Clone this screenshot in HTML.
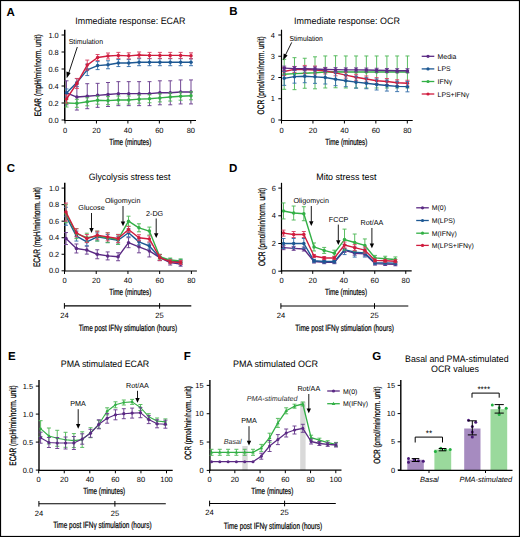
<!DOCTYPE html>
<html><head><meta charset="utf-8"><style>
html,body{margin:0;padding:0;background:#fff;}
body{width:520px;height:537px;overflow:hidden;}
svg{display:block;font-family:"Liberation Sans", sans-serif;text-rendering:geometricPrecision;-webkit-font-smoothing:antialiased;}
</style></head><body>
<svg width="520" height="537" viewBox="0 0 520 537">
<rect width="520" height="537" fill="#fff"/>
<rect x="0.5" y="0.5" width="519" height="536" fill="none" stroke="#000" stroke-width="1.2"/>
<text x="6.6" y="15.8" font-size="11.5" text-anchor="start" font-weight="bold" font-style="normal" fill="#000">A</text>
<text x="75.3" y="23.6" font-size="9.3" text-anchor="start" font-weight="normal" font-style="normal" fill="#000" textLength="110" lengthAdjust="spacingAndGlyphs">Immediate response: ECAR</text>
<line x1="64.75" y1="29.7" x2="64.75" y2="120.5" stroke="#000" stroke-width="1.5" stroke-linecap="butt"/>
<line x1="61.55" y1="120" x2="64.75" y2="120" stroke="#000" stroke-width="1" stroke-linecap="butt"/>
<text x="58.7" y="122.6" font-size="7.4" text-anchor="end" font-weight="normal" font-style="normal" fill="#000">0.0</text>
<line x1="61.55" y1="103" x2="64.75" y2="103" stroke="#000" stroke-width="1" stroke-linecap="butt"/>
<text x="58.7" y="105.6" font-size="7.4" text-anchor="end" font-weight="normal" font-style="normal" fill="#000">0.2</text>
<line x1="61.55" y1="86" x2="64.75" y2="86" stroke="#000" stroke-width="1" stroke-linecap="butt"/>
<text x="58.7" y="88.6" font-size="7.4" text-anchor="end" font-weight="normal" font-style="normal" fill="#000">0.4</text>
<line x1="61.55" y1="69" x2="64.75" y2="69" stroke="#000" stroke-width="1" stroke-linecap="butt"/>
<text x="58.7" y="71.6" font-size="7.4" text-anchor="end" font-weight="normal" font-style="normal" fill="#000">0.6</text>
<line x1="61.55" y1="52" x2="64.75" y2="52" stroke="#000" stroke-width="1" stroke-linecap="butt"/>
<text x="58.7" y="54.6" font-size="7.4" text-anchor="end" font-weight="normal" font-style="normal" fill="#000">0.8</text>
<line x1="61.55" y1="35" x2="64.75" y2="35" stroke="#000" stroke-width="1" stroke-linecap="butt"/>
<text x="58.7" y="37.6" font-size="7.4" text-anchor="end" font-weight="normal" font-style="normal" fill="#000">1.0</text>
<line x1="64" y1="120.5" x2="196" y2="120.5" stroke="#000" stroke-width="1.2" stroke-linecap="butt"/>
<line x1="65" y1="120.5" x2="65" y2="123.5" stroke="#000" stroke-width="1" stroke-linecap="butt"/>
<text x="65" y="132.5" font-size="7.5" text-anchor="middle" font-weight="normal" font-style="normal" fill="#000">0</text>
<line x1="96.45" y1="120.5" x2="96.45" y2="123.5" stroke="#000" stroke-width="1" stroke-linecap="butt"/>
<text x="96.45" y="132.5" font-size="7.5" text-anchor="middle" font-weight="normal" font-style="normal" fill="#000">20</text>
<line x1="127.9" y1="120.5" x2="127.9" y2="123.5" stroke="#000" stroke-width="1" stroke-linecap="butt"/>
<text x="127.9" y="132.5" font-size="7.5" text-anchor="middle" font-weight="normal" font-style="normal" fill="#000">40</text>
<line x1="159.35" y1="120.5" x2="159.35" y2="123.5" stroke="#000" stroke-width="1" stroke-linecap="butt"/>
<text x="159.35" y="132.5" font-size="7.5" text-anchor="middle" font-weight="normal" font-style="normal" fill="#000">60</text>
<line x1="190.8" y1="120.5" x2="190.8" y2="123.5" stroke="#000" stroke-width="1" stroke-linecap="butt"/>
<text x="190.8" y="132.5" font-size="7.5" text-anchor="middle" font-weight="normal" font-style="normal" fill="#000">80</text>
<text x="130.3" y="144.5" font-size="8.9" text-anchor="middle" font-weight="normal" font-style="normal" fill="#000" stroke="#000" stroke-width="0.22" textLength="42" lengthAdjust="spacingAndGlyphs">Time (minutes)</text>
<text transform="translate(40.6 75.2) rotate(-90)" x="0" y="0" font-size="9.4" text-anchor="middle" font-weight="normal" font-style="normal" fill="#000" stroke="#000" stroke-width="0.25" textLength="82" lengthAdjust="spacingAndGlyphs">ECAR (mpH/min/norm. unit)</text>
<path d="M66.5 80.8V104.8M64.5 80.8H68.5M64.5 104.8H68.5" stroke="#6c3f8f" stroke-width="0.95" fill="none"/>
<path d="M76.88 84.05V110.05M74.88 84.05H78.88M74.88 110.05H78.88" stroke="#6c3f8f" stroke-width="0.95" fill="none"/>
<path d="M87.25 83.7V108.7M85.25 83.7H89.25M85.25 108.7H89.25" stroke="#6c3f8f" stroke-width="0.95" fill="none"/>
<path d="M97.62 83.35V107.35M95.62 83.35H99.62M95.62 107.35H99.62" stroke="#6c3f8f" stroke-width="0.95" fill="none"/>
<path d="M108 82.5V106.5M106 82.5H110M106 106.5H110" stroke="#6c3f8f" stroke-width="0.95" fill="none"/>
<path d="M118.38 81.65V105.65M116.38 81.65H120.38M116.38 105.65H120.38" stroke="#6c3f8f" stroke-width="0.95" fill="none"/>
<path d="M128.75 81.65V105.65M126.75 81.65H130.75M126.75 105.65H130.75" stroke="#6c3f8f" stroke-width="0.95" fill="none"/>
<path d="M139.12 81.65V105.65M137.12 81.65H141.12M137.12 105.65H141.12" stroke="#6c3f8f" stroke-width="0.95" fill="none"/>
<path d="M149.5 81.65V105.65M147.5 81.65H151.5M147.5 105.65H151.5" stroke="#6c3f8f" stroke-width="0.95" fill="none"/>
<path d="M159.88 80.8V104.8M157.88 80.8H161.88M157.88 104.8H161.88" stroke="#6c3f8f" stroke-width="0.95" fill="none"/>
<path d="M170.25 80.8V104.8M168.25 80.8H172.25M168.25 104.8H172.25" stroke="#6c3f8f" stroke-width="0.95" fill="none"/>
<path d="M180.62 79.95V103.95M178.62 79.95H182.62M178.62 103.95H182.62" stroke="#6c3f8f" stroke-width="0.95" fill="none"/>
<path d="M191 79.95V103.95M189 79.95H193M189 103.95H193" stroke="#6c3f8f" stroke-width="0.95" fill="none"/>
<polyline points="66.5,92.8 76.88,97.05 87.25,96.2 97.62,95.35 108,94.5 118.38,93.65 128.75,93.65 139.12,93.65 149.5,93.65 159.88,92.8 170.25,92.8 180.62,91.95 191,91.95" fill="none" stroke="#5b2a84" stroke-width="1.4" stroke-linejoin="round"/>
<circle cx="66.5" cy="92.8" r="1.75" fill="#5b2a84"/>
<circle cx="76.88" cy="97.05" r="1.75" fill="#5b2a84"/>
<circle cx="87.25" cy="96.2" r="1.75" fill="#5b2a84"/>
<circle cx="97.62" cy="95.35" r="1.75" fill="#5b2a84"/>
<circle cx="108" cy="94.5" r="1.75" fill="#5b2a84"/>
<circle cx="118.38" cy="93.65" r="1.75" fill="#5b2a84"/>
<circle cx="128.75" cy="93.65" r="1.75" fill="#5b2a84"/>
<circle cx="139.12" cy="93.65" r="1.75" fill="#5b2a84"/>
<circle cx="149.5" cy="93.65" r="1.75" fill="#5b2a84"/>
<circle cx="159.88" cy="92.8" r="1.75" fill="#5b2a84"/>
<circle cx="170.25" cy="92.8" r="1.75" fill="#5b2a84"/>
<circle cx="180.62" cy="91.95" r="1.75" fill="#5b2a84"/>
<circle cx="191" cy="91.95" r="1.75" fill="#5b2a84"/>
<path d="M66.5 99V107M64.5 99H68.5M64.5 107H68.5" stroke="#52b95a" stroke-width="0.95" fill="none"/>
<path d="M76.88 99.34V107.34M74.88 99.34H78.88M74.88 107.34H78.88" stroke="#52b95a" stroke-width="0.95" fill="none"/>
<path d="M87.25 97.81V105.81M85.25 97.81H89.25M85.25 105.81H89.25" stroke="#52b95a" stroke-width="0.95" fill="none"/>
<path d="M97.62 96.19V104.19M95.62 96.19H99.62M95.62 104.19H99.62" stroke="#52b95a" stroke-width="0.95" fill="none"/>
<path d="M108 96.62V104.62M106 96.62H110M106 104.62H110" stroke="#52b95a" stroke-width="0.95" fill="none"/>
<path d="M118.38 96.03V104.03M116.38 96.03H120.38M116.38 104.03H120.38" stroke="#52b95a" stroke-width="0.95" fill="none"/>
<path d="M128.75 96.03V104.03M126.75 96.03H130.75M126.75 104.03H130.75" stroke="#52b95a" stroke-width="0.95" fill="none"/>
<path d="M139.12 95.17V103.17M137.12 95.17H141.12M137.12 103.17H141.12" stroke="#52b95a" stroke-width="0.95" fill="none"/>
<path d="M149.5 94.75V102.75M147.5 94.75H151.5M147.5 102.75H151.5" stroke="#52b95a" stroke-width="0.95" fill="none"/>
<path d="M159.88 93.9V101.9M157.88 93.9H161.88M157.88 101.9H161.88" stroke="#52b95a" stroke-width="0.95" fill="none"/>
<path d="M170.25 93.05V101.05M168.25 93.05H172.25M168.25 101.05H172.25" stroke="#52b95a" stroke-width="0.95" fill="none"/>
<path d="M180.62 92.2V100.2M178.62 92.2H182.62M178.62 100.2H182.62" stroke="#52b95a" stroke-width="0.95" fill="none"/>
<path d="M191 91.78V99.78M189 91.78H193M189 99.78H193" stroke="#52b95a" stroke-width="0.95" fill="none"/>
<polyline points="66.5,103 76.88,103.34 87.25,101.81 97.62,100.19 108,100.62 118.38,100.03 128.75,100.03 139.12,99.17 149.5,98.75 159.88,97.9 170.25,97.05 180.62,96.2 191,95.78" fill="none" stroke="#33b046" stroke-width="1.4" stroke-linejoin="round"/>
<circle cx="66.5" cy="103" r="1.75" fill="#33b046"/>
<circle cx="76.88" cy="103.34" r="1.75" fill="#33b046"/>
<circle cx="87.25" cy="101.81" r="1.75" fill="#33b046"/>
<circle cx="97.62" cy="100.19" r="1.75" fill="#33b046"/>
<circle cx="108" cy="100.62" r="1.75" fill="#33b046"/>
<circle cx="118.38" cy="100.03" r="1.75" fill="#33b046"/>
<circle cx="128.75" cy="100.03" r="1.75" fill="#33b046"/>
<circle cx="139.12" cy="99.17" r="1.75" fill="#33b046"/>
<circle cx="149.5" cy="98.75" r="1.75" fill="#33b046"/>
<circle cx="159.88" cy="97.9" r="1.75" fill="#33b046"/>
<circle cx="170.25" cy="97.05" r="1.75" fill="#33b046"/>
<circle cx="180.62" cy="96.2" r="1.75" fill="#33b046"/>
<circle cx="191" cy="95.78" r="1.75" fill="#33b046"/>
<path d="M66.5 88.97V96.97M64.5 88.97H68.5M64.5 96.97H68.5" stroke="#3a72ac" stroke-width="0.95" fill="none"/>
<path d="M76.88 78.6V86.6M74.88 78.6H78.88M74.88 86.6H78.88" stroke="#3a72ac" stroke-width="0.95" fill="none"/>
<path d="M87.25 64.15V75.55M85.25 64.15H89.25M85.25 75.55H89.25" stroke="#3a72ac" stroke-width="0.95" fill="none"/>
<path d="M97.62 61.6V69.6M95.62 61.6H99.62M95.62 69.6H99.62" stroke="#3a72ac" stroke-width="0.95" fill="none"/>
<path d="M108 60.75V68.75M106 60.75H110M106 68.75H110" stroke="#3a72ac" stroke-width="0.95" fill="none"/>
<path d="M118.38 59.55V66.55M116.38 59.55H120.38M116.38 66.55H120.38" stroke="#3a72ac" stroke-width="0.95" fill="none"/>
<path d="M128.75 59.55V66.55M126.75 59.55H130.75M126.75 66.55H130.75" stroke="#3a72ac" stroke-width="0.95" fill="none"/>
<path d="M139.12 58.7V65.7M137.12 58.7H141.12M137.12 65.7H141.12" stroke="#3a72ac" stroke-width="0.95" fill="none"/>
<path d="M149.5 58.7V65.7M147.5 58.7H151.5M147.5 65.7H151.5" stroke="#3a72ac" stroke-width="0.95" fill="none"/>
<path d="M159.88 58.7V65.7M157.88 58.7H161.88M157.88 65.7H161.88" stroke="#3a72ac" stroke-width="0.95" fill="none"/>
<path d="M170.25 58.7V65.7M168.25 58.7H172.25M168.25 65.7H172.25" stroke="#3a72ac" stroke-width="0.95" fill="none"/>
<path d="M180.62 58.7V65.7M178.62 58.7H182.62M178.62 65.7H182.62" stroke="#3a72ac" stroke-width="0.95" fill="none"/>
<path d="M191 58.7V65.7M189 58.7H193M189 65.7H193" stroke="#3a72ac" stroke-width="0.95" fill="none"/>
<polyline points="66.5,92.97 76.88,82.6 87.25,69.85 97.62,65.6 108,64.75 118.38,63.05 128.75,63.05 139.12,62.2 149.5,62.2 159.88,62.2 170.25,62.2 180.62,62.2 191,62.2" fill="none" stroke="#1d5893" stroke-width="1.4" stroke-linejoin="round"/>
<circle cx="66.5" cy="92.97" r="1.75" fill="#1d5893"/>
<circle cx="76.88" cy="82.6" r="1.75" fill="#1d5893"/>
<circle cx="87.25" cy="69.85" r="1.75" fill="#1d5893"/>
<circle cx="97.62" cy="65.6" r="1.75" fill="#1d5893"/>
<circle cx="108" cy="64.75" r="1.75" fill="#1d5893"/>
<circle cx="118.38" cy="63.05" r="1.75" fill="#1d5893"/>
<circle cx="128.75" cy="63.05" r="1.75" fill="#1d5893"/>
<circle cx="139.12" cy="62.2" r="1.75" fill="#1d5893"/>
<circle cx="149.5" cy="62.2" r="1.75" fill="#1d5893"/>
<circle cx="159.88" cy="62.2" r="1.75" fill="#1d5893"/>
<circle cx="170.25" cy="62.2" r="1.75" fill="#1d5893"/>
<circle cx="180.62" cy="62.2" r="1.75" fill="#1d5893"/>
<circle cx="191" cy="62.2" r="1.75" fill="#1d5893"/>
<path d="M66.5 95V103M64.5 95H68.5M64.5 103H68.5" stroke="#d84566" stroke-width="0.95" fill="none"/>
<path d="M76.88 78.45V88.45M74.88 78.45H78.88M74.88 88.45H78.88" stroke="#d84566" stroke-width="0.95" fill="none"/>
<path d="M87.25 60.09V70.09M85.25 60.09H89.25M85.25 70.09H89.25" stroke="#d84566" stroke-width="0.95" fill="none"/>
<path d="M97.62 54.52V60.52M95.62 54.52H99.62M95.62 60.52H99.62" stroke="#d84566" stroke-width="0.95" fill="none"/>
<path d="M108 53V59M106 53H110M106 59H110" stroke="#d84566" stroke-width="0.95" fill="none"/>
<path d="M118.38 52.4V58.4M116.38 52.4H120.38M116.38 58.4H120.38" stroke="#d84566" stroke-width="0.95" fill="none"/>
<path d="M128.75 52.83V58.83M126.75 52.83H130.75M126.75 58.83H130.75" stroke="#d84566" stroke-width="0.95" fill="none"/>
<path d="M139.12 51.97V57.97M137.12 51.97H141.12M137.12 57.97H141.12" stroke="#d84566" stroke-width="0.95" fill="none"/>
<path d="M149.5 52.4V58.4M147.5 52.4H151.5M147.5 58.4H151.5" stroke="#d84566" stroke-width="0.95" fill="none"/>
<path d="M159.88 52.4V58.4M157.88 52.4H161.88M157.88 58.4H161.88" stroke="#d84566" stroke-width="0.95" fill="none"/>
<path d="M170.25 52.4V58.4M168.25 52.4H172.25M168.25 58.4H172.25" stroke="#d84566" stroke-width="0.95" fill="none"/>
<path d="M180.62 52.4V58.4M178.62 52.4H182.62M178.62 58.4H182.62" stroke="#d84566" stroke-width="0.95" fill="none"/>
<path d="M191 52.83V58.83M189 52.83H193M189 58.83H193" stroke="#d84566" stroke-width="0.95" fill="none"/>
<polyline points="66.5,99 76.88,83.45 87.25,65.09 97.62,57.52 108,56 118.38,55.4 128.75,55.83 139.12,54.97 149.5,55.4 159.88,55.4 170.25,55.4 180.62,55.4 191,55.83" fill="none" stroke="#d01c3e" stroke-width="1.4" stroke-linejoin="round"/>
<circle cx="66.5" cy="99" r="1.75" fill="#d01c3e"/>
<circle cx="76.88" cy="83.45" r="1.75" fill="#d01c3e"/>
<circle cx="87.25" cy="65.09" r="1.75" fill="#d01c3e"/>
<circle cx="97.62" cy="57.52" r="1.75" fill="#d01c3e"/>
<circle cx="108" cy="56" r="1.75" fill="#d01c3e"/>
<circle cx="118.38" cy="55.4" r="1.75" fill="#d01c3e"/>
<circle cx="128.75" cy="55.83" r="1.75" fill="#d01c3e"/>
<circle cx="139.12" cy="54.97" r="1.75" fill="#d01c3e"/>
<circle cx="149.5" cy="55.4" r="1.75" fill="#d01c3e"/>
<circle cx="159.88" cy="55.4" r="1.75" fill="#d01c3e"/>
<circle cx="170.25" cy="55.4" r="1.75" fill="#d01c3e"/>
<circle cx="180.62" cy="55.4" r="1.75" fill="#d01c3e"/>
<circle cx="191" cy="55.83" r="1.75" fill="#d01c3e"/>
<text x="68.7" y="43.8" font-size="7.2" text-anchor="start" font-weight="normal" font-style="normal" fill="#000" textLength="34.3" lengthAdjust="spacingAndGlyphs">Stimulation</text>
<line x1="77.3" y1="47" x2="68.6" y2="73.5" stroke="#000" stroke-width="0.9"/>
<path d="M66.7 78.2L66.4 71.6L70.6 73.0Z" fill="#000"/>
<text x="229.2" y="15.4" font-size="11.5" text-anchor="start" font-weight="bold" font-style="normal" fill="#000">B</text>
<text x="294.1" y="23.9" font-size="9.3" text-anchor="start" font-weight="normal" font-style="normal" fill="#000" textLength="105.8" lengthAdjust="spacingAndGlyphs">Immediate response: OCR</text>
<line x1="281.5" y1="29.7" x2="281.5" y2="120.5" stroke="#000" stroke-width="1.2" stroke-linecap="butt"/>
<line x1="278.3" y1="120" x2="281.5" y2="120" stroke="#000" stroke-width="1" stroke-linecap="butt"/>
<text x="274.8" y="122.6" font-size="7.4" text-anchor="end" font-weight="normal" font-style="normal" fill="#000">0</text>
<line x1="278.3" y1="98.75" x2="281.5" y2="98.75" stroke="#000" stroke-width="1" stroke-linecap="butt"/>
<text x="274.8" y="101.35" font-size="7.4" text-anchor="end" font-weight="normal" font-style="normal" fill="#000">1</text>
<line x1="278.3" y1="77.5" x2="281.5" y2="77.5" stroke="#000" stroke-width="1" stroke-linecap="butt"/>
<text x="274.8" y="80.1" font-size="7.4" text-anchor="end" font-weight="normal" font-style="normal" fill="#000">2</text>
<line x1="278.3" y1="56.25" x2="281.5" y2="56.25" stroke="#000" stroke-width="1" stroke-linecap="butt"/>
<text x="274.8" y="58.85" font-size="7.4" text-anchor="end" font-weight="normal" font-style="normal" fill="#000">3</text>
<line x1="278.3" y1="35" x2="281.5" y2="35" stroke="#000" stroke-width="1" stroke-linecap="butt"/>
<text x="274.8" y="37.6" font-size="7.4" text-anchor="end" font-weight="normal" font-style="normal" fill="#000">4</text>
<line x1="280.7" y1="120.5" x2="412.7" y2="120.5" stroke="#000" stroke-width="1.2" stroke-linecap="butt"/>
<line x1="281.5" y1="120.5" x2="281.5" y2="123.5" stroke="#000" stroke-width="1" stroke-linecap="butt"/>
<text x="281.5" y="132.5" font-size="7.5" text-anchor="middle" font-weight="normal" font-style="normal" fill="#000">0</text>
<line x1="312.95" y1="120.5" x2="312.95" y2="123.5" stroke="#000" stroke-width="1" stroke-linecap="butt"/>
<text x="312.95" y="132.5" font-size="7.5" text-anchor="middle" font-weight="normal" font-style="normal" fill="#000">20</text>
<line x1="344.4" y1="120.5" x2="344.4" y2="123.5" stroke="#000" stroke-width="1" stroke-linecap="butt"/>
<text x="344.4" y="132.5" font-size="7.5" text-anchor="middle" font-weight="normal" font-style="normal" fill="#000">40</text>
<line x1="375.85" y1="120.5" x2="375.85" y2="123.5" stroke="#000" stroke-width="1" stroke-linecap="butt"/>
<text x="375.85" y="132.5" font-size="7.5" text-anchor="middle" font-weight="normal" font-style="normal" fill="#000">60</text>
<line x1="407.3" y1="120.5" x2="407.3" y2="123.5" stroke="#000" stroke-width="1" stroke-linecap="butt"/>
<text x="407.3" y="132.5" font-size="7.5" text-anchor="middle" font-weight="normal" font-style="normal" fill="#000">80</text>
<text x="346.3" y="144.5" font-size="8.9" text-anchor="middle" font-weight="normal" font-style="normal" fill="#000" stroke="#000" stroke-width="0.22" textLength="42" lengthAdjust="spacingAndGlyphs">Time (minutes)</text>
<text transform="translate(263.6 75.3) rotate(-90)" x="0" y="0" font-size="9.4" text-anchor="middle" font-weight="normal" font-style="normal" fill="#000" stroke="#000" stroke-width="0.25" textLength="78.2" lengthAdjust="spacingAndGlyphs">OCR (pmol/min/norm. unit)</text>
<path d="M284.2 59.31V89.31M282.2 59.31H286.2M282.2 89.31H286.2" stroke="#52b95a" stroke-width="0.95" fill="none"/>
<path d="M294.47 57.67V89.67M292.47 57.67H296.47M292.47 89.67H296.47" stroke="#52b95a" stroke-width="0.95" fill="none"/>
<path d="M304.74 58.25V88.25M302.74 58.25H306.74M302.74 88.25H306.74" stroke="#52b95a" stroke-width="0.95" fill="none"/>
<path d="M315.01 56.82V88.82M313.01 56.82H317.01M313.01 88.82H317.01" stroke="#52b95a" stroke-width="0.95" fill="none"/>
<path d="M325.28 55.97V87.97M323.28 55.97H327.28M323.28 87.97H327.28" stroke="#52b95a" stroke-width="0.95" fill="none"/>
<path d="M335.55 55.76V87.76M333.55 55.76H337.55M333.55 87.76H337.55" stroke="#52b95a" stroke-width="0.95" fill="none"/>
<path d="M345.82 55.97V87.97M343.82 55.97H347.82M343.82 87.97H347.82" stroke="#52b95a" stroke-width="0.95" fill="none"/>
<path d="M356.09 55.97V87.97M354.09 55.97H358.09M354.09 87.97H358.09" stroke="#52b95a" stroke-width="0.95" fill="none"/>
<path d="M366.36 55.97V87.97M364.36 55.97H368.36M364.36 87.97H368.36" stroke="#52b95a" stroke-width="0.95" fill="none"/>
<path d="M376.63 55.97V87.97M374.63 55.97H378.63M374.63 87.97H378.63" stroke="#52b95a" stroke-width="0.95" fill="none"/>
<path d="M386.9 55.97V87.97M384.9 55.97H388.9M384.9 87.97H388.9" stroke="#52b95a" stroke-width="0.95" fill="none"/>
<path d="M397.17 55.97V87.97M395.17 55.97H399.17M395.17 87.97H399.17" stroke="#52b95a" stroke-width="0.95" fill="none"/>
<path d="M407.44 55.97V87.97M405.44 55.97H409.44M405.44 87.97H409.44" stroke="#52b95a" stroke-width="0.95" fill="none"/>
<polyline points="284.2,74.31 294.47,73.67 304.74,73.25 315.01,72.82 325.28,71.97 335.55,71.76 345.82,71.97 356.09,71.97 366.36,71.97 376.63,71.97 386.9,71.97 397.17,71.97 407.44,71.97" fill="none" stroke="#33b046" stroke-width="1.4" stroke-linejoin="round"/>
<circle cx="284.2" cy="74.31" r="1.75" fill="#33b046"/>
<circle cx="294.47" cy="73.67" r="1.75" fill="#33b046"/>
<circle cx="304.74" cy="73.25" r="1.75" fill="#33b046"/>
<circle cx="315.01" cy="72.82" r="1.75" fill="#33b046"/>
<circle cx="325.28" cy="71.97" r="1.75" fill="#33b046"/>
<circle cx="335.55" cy="71.76" r="1.75" fill="#33b046"/>
<circle cx="345.82" cy="71.97" r="1.75" fill="#33b046"/>
<circle cx="356.09" cy="71.97" r="1.75" fill="#33b046"/>
<circle cx="366.36" cy="71.97" r="1.75" fill="#33b046"/>
<circle cx="376.63" cy="71.97" r="1.75" fill="#33b046"/>
<circle cx="386.9" cy="71.97" r="1.75" fill="#33b046"/>
<circle cx="397.17" cy="71.97" r="1.75" fill="#33b046"/>
<circle cx="407.44" cy="71.97" r="1.75" fill="#33b046"/>
<path d="M284.2 67.55V75.55M282.2 67.55H286.2M282.2 75.55H286.2" stroke="#d84566" stroke-width="0.95" fill="none"/>
<path d="M294.47 66.43V72.43M292.47 66.43H296.47M292.47 72.43H296.47" stroke="#d84566" stroke-width="0.95" fill="none"/>
<path d="M304.74 65.43V73.43M302.74 65.43H306.74M302.74 73.43H306.74" stroke="#d84566" stroke-width="0.95" fill="none"/>
<path d="M315.01 66.06V74.06M313.01 66.06H317.01M313.01 74.06H317.01" stroke="#d84566" stroke-width="0.95" fill="none"/>
<path d="M325.28 67.91V73.91M323.28 67.91H327.28M323.28 73.91H327.28" stroke="#d84566" stroke-width="0.95" fill="none"/>
<path d="M335.55 69.82V75.82M333.55 69.82H337.55M333.55 75.82H337.55" stroke="#d84566" stroke-width="0.95" fill="none"/>
<path d="M345.82 72.16V78.16M343.82 72.16H347.82M343.82 78.16H347.82" stroke="#d84566" stroke-width="0.95" fill="none"/>
<path d="M356.09 74.29V80.29M354.09 74.29H358.09M354.09 80.29H358.09" stroke="#d84566" stroke-width="0.95" fill="none"/>
<path d="M366.36 75.99V81.99M364.36 75.99H368.36M364.36 81.99H368.36" stroke="#d84566" stroke-width="0.95" fill="none"/>
<path d="M376.63 77.69V83.69M374.63 77.69H378.63M374.63 83.69H378.63" stroke="#d84566" stroke-width="0.95" fill="none"/>
<path d="M386.9 78.54V84.54M384.9 78.54H388.9M384.9 84.54H388.9" stroke="#d84566" stroke-width="0.95" fill="none"/>
<path d="M397.17 79.81V85.81M395.17 79.81H399.17M395.17 85.81H399.17" stroke="#d84566" stroke-width="0.95" fill="none"/>
<path d="M407.44 80.24V86.24M405.44 80.24H409.44M405.44 86.24H409.44" stroke="#d84566" stroke-width="0.95" fill="none"/>
<polyline points="284.2,71.55 294.47,69.43 304.74,69.43 315.01,70.06 325.28,70.91 335.55,72.82 345.82,75.16 356.09,77.29 366.36,78.99 376.63,80.69 386.9,81.54 397.17,82.81 407.44,83.24" fill="none" stroke="#d01c3e" stroke-width="1.4" stroke-linejoin="round"/>
<circle cx="284.2" cy="71.55" r="1.75" fill="#d01c3e"/>
<circle cx="294.47" cy="69.43" r="1.75" fill="#d01c3e"/>
<circle cx="304.74" cy="69.43" r="1.75" fill="#d01c3e"/>
<circle cx="315.01" cy="70.06" r="1.75" fill="#d01c3e"/>
<circle cx="325.28" cy="70.91" r="1.75" fill="#d01c3e"/>
<circle cx="335.55" cy="72.82" r="1.75" fill="#d01c3e"/>
<circle cx="345.82" cy="75.16" r="1.75" fill="#d01c3e"/>
<circle cx="356.09" cy="77.29" r="1.75" fill="#d01c3e"/>
<circle cx="366.36" cy="78.99" r="1.75" fill="#d01c3e"/>
<circle cx="376.63" cy="80.69" r="1.75" fill="#d01c3e"/>
<circle cx="386.9" cy="81.54" r="1.75" fill="#d01c3e"/>
<circle cx="397.17" cy="82.81" r="1.75" fill="#d01c3e"/>
<circle cx="407.44" cy="83.24" r="1.75" fill="#d01c3e"/>
<path d="M284.2 71.35V85.35M282.2 71.35H286.2M282.2 85.35H286.2" stroke="#3a72ac" stroke-width="0.95" fill="none"/>
<path d="M294.47 70.15V83.15M292.47 70.15H296.47M292.47 83.15H296.47" stroke="#3a72ac" stroke-width="0.95" fill="none"/>
<path d="M304.74 69.72V82.72M302.74 69.72H306.74M302.74 82.72H306.74" stroke="#3a72ac" stroke-width="0.95" fill="none"/>
<path d="M315.01 70.36V83.36M313.01 70.36H317.01M313.01 83.36H317.01" stroke="#3a72ac" stroke-width="0.95" fill="none"/>
<path d="M325.28 71V84M323.28 71H327.28M323.28 84H327.28" stroke="#3a72ac" stroke-width="0.95" fill="none"/>
<path d="M335.55 72.7V85.7M333.55 72.7H337.55M333.55 85.7H337.55" stroke="#3a72ac" stroke-width="0.95" fill="none"/>
<path d="M345.82 74.69V86.69M343.82 74.69H347.82M343.82 86.69H347.82" stroke="#3a72ac" stroke-width="0.95" fill="none"/>
<path d="M356.09 76.17V88.17M354.09 76.17H358.09M354.09 88.17H358.09" stroke="#3a72ac" stroke-width="0.95" fill="none"/>
<path d="M366.36 77.74V88.74M364.36 77.74H368.36M364.36 88.74H368.36" stroke="#3a72ac" stroke-width="0.95" fill="none"/>
<path d="M376.63 79.01V90.01M374.63 79.01H378.63M374.63 90.01H378.63" stroke="#3a72ac" stroke-width="0.95" fill="none"/>
<path d="M386.9 80.07V91.07M384.9 80.07H388.9M384.9 91.07H388.9" stroke="#3a72ac" stroke-width="0.95" fill="none"/>
<path d="M397.17 81.22V91.62M395.17 81.22H399.17M395.17 91.62H399.17" stroke="#3a72ac" stroke-width="0.95" fill="none"/>
<path d="M407.44 81.44V91.84M405.44 81.44H409.44M405.44 91.84H409.44" stroke="#3a72ac" stroke-width="0.95" fill="none"/>
<polyline points="284.2,78.35 294.47,76.65 304.74,76.22 315.01,76.86 325.28,77.5 335.55,79.2 345.82,80.69 356.09,82.17 366.36,83.24 376.63,84.51 386.9,85.57 397.17,86.42 407.44,86.64" fill="none" stroke="#1d5893" stroke-width="1.4" stroke-linejoin="round"/>
<circle cx="284.2" cy="78.35" r="1.75" fill="#1d5893"/>
<circle cx="294.47" cy="76.65" r="1.75" fill="#1d5893"/>
<circle cx="304.74" cy="76.22" r="1.75" fill="#1d5893"/>
<circle cx="315.01" cy="76.86" r="1.75" fill="#1d5893"/>
<circle cx="325.28" cy="77.5" r="1.75" fill="#1d5893"/>
<circle cx="335.55" cy="79.2" r="1.75" fill="#1d5893"/>
<circle cx="345.82" cy="80.69" r="1.75" fill="#1d5893"/>
<circle cx="356.09" cy="82.17" r="1.75" fill="#1d5893"/>
<circle cx="366.36" cy="83.24" r="1.75" fill="#1d5893"/>
<circle cx="376.63" cy="84.51" r="1.75" fill="#1d5893"/>
<circle cx="386.9" cy="85.57" r="1.75" fill="#1d5893"/>
<circle cx="397.17" cy="86.42" r="1.75" fill="#1d5893"/>
<circle cx="407.44" cy="86.64" r="1.75" fill="#1d5893"/>
<path d="M284.2 66.15V70.15M282.2 66.15H286.2M282.2 70.15H286.2" stroke="#6c3f8f" stroke-width="0.95" fill="none"/>
<path d="M294.47 66.58V70.58M292.47 66.58H296.47M292.47 70.58H296.47" stroke="#6c3f8f" stroke-width="0.95" fill="none"/>
<path d="M304.74 66.79V70.79M302.74 66.79H306.74M302.74 70.79H306.74" stroke="#6c3f8f" stroke-width="0.95" fill="none"/>
<path d="M315.01 67V71M313.01 67H317.01M313.01 71H317.01" stroke="#6c3f8f" stroke-width="0.95" fill="none"/>
<path d="M325.28 67.43V71.43M323.28 67.43H327.28M323.28 71.43H327.28" stroke="#6c3f8f" stroke-width="0.95" fill="none"/>
<path d="M335.55 67.64V71.64M333.55 67.64H337.55M333.55 71.64H337.55" stroke="#6c3f8f" stroke-width="0.95" fill="none"/>
<path d="M345.82 67.85V71.85M343.82 67.85H347.82M343.82 71.85H347.82" stroke="#6c3f8f" stroke-width="0.95" fill="none"/>
<path d="M356.09 67.85V71.85M354.09 67.85H358.09M354.09 71.85H358.09" stroke="#6c3f8f" stroke-width="0.95" fill="none"/>
<path d="M366.36 68.06V72.06M364.36 68.06H368.36M364.36 72.06H368.36" stroke="#6c3f8f" stroke-width="0.95" fill="none"/>
<path d="M376.63 68.28V72.28M374.63 68.28H378.63M374.63 72.28H378.63" stroke="#6c3f8f" stroke-width="0.95" fill="none"/>
<path d="M386.9 68.49V72.49M384.9 68.49H388.9M384.9 72.49H388.9" stroke="#6c3f8f" stroke-width="0.95" fill="none"/>
<path d="M397.17 68.7V72.7M395.17 68.7H399.17M395.17 72.7H399.17" stroke="#6c3f8f" stroke-width="0.95" fill="none"/>
<path d="M407.44 68.7V72.7M405.44 68.7H409.44M405.44 72.7H409.44" stroke="#6c3f8f" stroke-width="0.95" fill="none"/>
<polyline points="284.2,68.15 294.47,68.58 304.74,68.79 315.01,69 325.28,69.43 335.55,69.64 345.82,69.85 356.09,69.85 366.36,70.06 376.63,70.28 386.9,70.49 397.17,70.7 407.44,70.7" fill="none" stroke="#5b2a84" stroke-width="1.4" stroke-linejoin="round"/>
<circle cx="284.2" cy="68.15" r="1.75" fill="#5b2a84"/>
<circle cx="294.47" cy="68.58" r="1.75" fill="#5b2a84"/>
<circle cx="304.74" cy="68.79" r="1.75" fill="#5b2a84"/>
<circle cx="315.01" cy="69" r="1.75" fill="#5b2a84"/>
<circle cx="325.28" cy="69.43" r="1.75" fill="#5b2a84"/>
<circle cx="335.55" cy="69.64" r="1.75" fill="#5b2a84"/>
<circle cx="345.82" cy="69.85" r="1.75" fill="#5b2a84"/>
<circle cx="356.09" cy="69.85" r="1.75" fill="#5b2a84"/>
<circle cx="366.36" cy="70.06" r="1.75" fill="#5b2a84"/>
<circle cx="376.63" cy="70.28" r="1.75" fill="#5b2a84"/>
<circle cx="386.9" cy="70.49" r="1.75" fill="#5b2a84"/>
<circle cx="397.17" cy="70.7" r="1.75" fill="#5b2a84"/>
<circle cx="407.44" cy="70.7" r="1.75" fill="#5b2a84"/>
<text x="289.4" y="40.5" font-size="7.3" text-anchor="start" font-weight="normal" font-style="normal" fill="#000" textLength="33.5" lengthAdjust="spacingAndGlyphs">Stimulation</text>
<line x1="291.7" y1="42.4" x2="284.9" y2="56.2" stroke="#000" stroke-width="0.9"/>
<path d="M283.1 60.3L283.7 53.6L287.6 55.6Z" fill="#000"/>
<line x1="421.7" y1="56.3" x2="434.3" y2="56.3" stroke="#5b2a84" stroke-width="1.3" stroke-linecap="butt"/>
<circle cx="428" cy="56.3" r="1.6" fill="#5b2a84"/>
<text x="437.6" y="58.8" font-size="6.9" text-anchor="start" font-weight="normal" font-style="normal" fill="#000">Media</text>
<line x1="421.7" y1="68.9" x2="434.3" y2="68.9" stroke="#1d5893" stroke-width="1.3" stroke-linecap="butt"/>
<circle cx="428" cy="68.9" r="1.6" fill="#1d5893"/>
<text x="437.6" y="71.4" font-size="6.9" text-anchor="start" font-weight="normal" font-style="normal" fill="#000">LPS</text>
<line x1="421.7" y1="81.5" x2="434.3" y2="81.5" stroke="#33b046" stroke-width="1.3" stroke-linecap="butt"/>
<circle cx="428" cy="81.5" r="1.6" fill="#33b046"/>
<text x="437.6" y="84" font-size="6.9" text-anchor="start" font-weight="normal" font-style="normal" fill="#000">IFN&#947;</text>
<line x1="421.7" y1="94" x2="434.3" y2="94" stroke="#d01c3e" stroke-width="1.3" stroke-linecap="butt"/>
<circle cx="428" cy="94" r="1.6" fill="#d01c3e"/>
<text x="437.6" y="96.5" font-size="6.9" text-anchor="start" font-weight="normal" font-style="normal" fill="#000">LPS+IFN&#947;</text>
<text x="6.8" y="172.2" font-size="11.5" text-anchor="start" font-weight="bold" font-style="normal" fill="#000">C</text>
<text x="88.7" y="179.8" font-size="9.3" text-anchor="start" font-weight="normal" font-style="normal" fill="#000" textLength="81.7" lengthAdjust="spacingAndGlyphs">Glycolysis stress test</text>
<line x1="64.75" y1="182.8" x2="64.75" y2="271.3" stroke="#000" stroke-width="1.5" stroke-linecap="butt"/>
<line x1="61.55" y1="270.8" x2="64.75" y2="270.8" stroke="#000" stroke-width="1" stroke-linecap="butt"/>
<text x="59.2" y="273.4" font-size="7.4" text-anchor="end" font-weight="normal" font-style="normal" fill="#000">0.0</text>
<line x1="61.55" y1="254.26" x2="64.75" y2="254.26" stroke="#000" stroke-width="1" stroke-linecap="butt"/>
<text x="59.2" y="256.86" font-size="7.4" text-anchor="end" font-weight="normal" font-style="normal" fill="#000">0.2</text>
<line x1="61.55" y1="237.72" x2="64.75" y2="237.72" stroke="#000" stroke-width="1" stroke-linecap="butt"/>
<text x="59.2" y="240.32" font-size="7.4" text-anchor="end" font-weight="normal" font-style="normal" fill="#000">0.4</text>
<line x1="61.55" y1="221.18" x2="64.75" y2="221.18" stroke="#000" stroke-width="1" stroke-linecap="butt"/>
<text x="59.2" y="223.78" font-size="7.4" text-anchor="end" font-weight="normal" font-style="normal" fill="#000">0.6</text>
<line x1="61.55" y1="204.64" x2="64.75" y2="204.64" stroke="#000" stroke-width="1" stroke-linecap="butt"/>
<text x="59.2" y="207.24" font-size="7.4" text-anchor="end" font-weight="normal" font-style="normal" fill="#000">0.8</text>
<line x1="61.55" y1="188.1" x2="64.75" y2="188.1" stroke="#000" stroke-width="1" stroke-linecap="butt"/>
<text x="59.2" y="190.7" font-size="7.4" text-anchor="end" font-weight="normal" font-style="normal" fill="#000">1.0</text>
<line x1="64" y1="271" x2="196.9" y2="271" stroke="#000" stroke-width="1.2" stroke-linecap="butt"/>
<line x1="64.5" y1="271" x2="64.5" y2="274" stroke="#000" stroke-width="1" stroke-linecap="butt"/>
<text x="64.5" y="283" font-size="7.5" text-anchor="middle" font-weight="normal" font-style="normal" fill="#000">0</text>
<line x1="96.22" y1="271" x2="96.22" y2="274" stroke="#000" stroke-width="1" stroke-linecap="butt"/>
<text x="96.22" y="283" font-size="7.5" text-anchor="middle" font-weight="normal" font-style="normal" fill="#000">20</text>
<line x1="127.94" y1="271" x2="127.94" y2="274" stroke="#000" stroke-width="1" stroke-linecap="butt"/>
<text x="127.94" y="283" font-size="7.5" text-anchor="middle" font-weight="normal" font-style="normal" fill="#000">40</text>
<line x1="159.66" y1="271" x2="159.66" y2="274" stroke="#000" stroke-width="1" stroke-linecap="butt"/>
<text x="159.66" y="283" font-size="7.5" text-anchor="middle" font-weight="normal" font-style="normal" fill="#000">60</text>
<line x1="191.38" y1="271" x2="191.38" y2="274" stroke="#000" stroke-width="1" stroke-linecap="butt"/>
<text x="191.38" y="283" font-size="7.5" text-anchor="middle" font-weight="normal" font-style="normal" fill="#000">80</text>
<text x="130.3" y="295" font-size="8.9" text-anchor="middle" font-weight="normal" font-style="normal" fill="#000" stroke="#000" stroke-width="0.22" textLength="42" lengthAdjust="spacingAndGlyphs">Time (minutes)</text>
<text transform="translate(40.2 227) rotate(-90)" x="0" y="0" font-size="9.4" text-anchor="middle" font-weight="normal" font-style="normal" fill="#000" stroke="#000" stroke-width="0.25" textLength="80" lengthAdjust="spacingAndGlyphs">ECAR (mpH/min/norm. unit)</text>
<line x1="64.4" y1="305.9" x2="191.3" y2="305.9" stroke="#000" stroke-width="1.1" stroke-linecap="butt"/>
<line x1="64.4" y1="303.1" x2="64.4" y2="308.7" stroke="#000" stroke-width="1" stroke-linecap="butt"/>
<line x1="159.6" y1="303.1" x2="159.6" y2="308.7" stroke="#000" stroke-width="1" stroke-linecap="butt"/>
<text x="64.4" y="317.7" font-size="7.6" text-anchor="middle" font-weight="normal" font-style="normal" fill="#000">24</text>
<text x="159.6" y="317.7" font-size="7.6" text-anchor="middle" font-weight="normal" font-style="normal" fill="#000">25</text>
<text x="127.9" y="330.6" font-size="9" text-anchor="middle" font-weight="normal" font-style="normal" fill="#000" stroke="#000" stroke-width="0.22" textLength="98.5" lengthAdjust="spacingAndGlyphs">Time post IFN&#947; stimulation (hours)</text>
<path d="M66 232.55V244.55M64 232.55H68M64 244.55H68" stroke="#6c3f8f" stroke-width="0.95" fill="none"/>
<path d="M76.42 243.97V252.97M74.42 243.97H78.42M74.42 252.97H78.42" stroke="#6c3f8f" stroke-width="0.95" fill="none"/>
<path d="M86.84 246.12V254.12M84.84 246.12H88.84M84.84 254.12H88.84" stroke="#6c3f8f" stroke-width="0.95" fill="none"/>
<path d="M97.26 249.76V258.76M95.26 249.76H99.26M95.26 258.76H99.26" stroke="#6c3f8f" stroke-width="0.95" fill="none"/>
<path d="M107.68 251.91V259.91M105.68 251.91H109.68M105.68 259.91H109.68" stroke="#6c3f8f" stroke-width="0.95" fill="none"/>
<path d="M118.1 252.74V260.74M116.1 252.74H120.1M116.1 260.74H120.1" stroke="#6c3f8f" stroke-width="0.95" fill="none"/>
<path d="M128.52 237.68V247.68M126.52 237.68H130.52M126.52 247.68H130.52" stroke="#6c3f8f" stroke-width="0.95" fill="none"/>
<path d="M138.94 240.82V252.82M136.94 240.82H140.94M136.94 252.82H140.94" stroke="#6c3f8f" stroke-width="0.95" fill="none"/>
<path d="M149.36 244.95V256.95M147.36 244.95H151.36M147.36 256.95H151.36" stroke="#6c3f8f" stroke-width="0.95" fill="none"/>
<path d="M159.78 254.57V260.57M157.78 254.57H161.78M157.78 260.57H161.78" stroke="#6c3f8f" stroke-width="0.95" fill="none"/>
<path d="M170.2 260.03V265.03M168.2 260.03H172.2M168.2 265.03H172.2" stroke="#6c3f8f" stroke-width="0.95" fill="none"/>
<path d="M180.62 262.18V266.18M178.62 262.18H182.62M178.62 266.18H182.62" stroke="#6c3f8f" stroke-width="0.95" fill="none"/>
<polyline points="66,238.55 76.42,248.47 86.84,250.12 97.26,254.26 107.68,255.91 118.1,256.74 128.52,242.68 138.94,246.82 149.36,250.95 159.78,257.57 170.2,262.53 180.62,264.18" fill="none" stroke="#5b2a84" stroke-width="1.4" stroke-linejoin="round"/>
<circle cx="66" cy="238.55" r="1.75" fill="#5b2a84"/>
<circle cx="76.42" cy="248.47" r="1.75" fill="#5b2a84"/>
<circle cx="86.84" cy="250.12" r="1.75" fill="#5b2a84"/>
<circle cx="97.26" cy="254.26" r="1.75" fill="#5b2a84"/>
<circle cx="107.68" cy="255.91" r="1.75" fill="#5b2a84"/>
<circle cx="118.1" cy="256.74" r="1.75" fill="#5b2a84"/>
<circle cx="128.52" cy="242.68" r="1.75" fill="#5b2a84"/>
<circle cx="138.94" cy="246.82" r="1.75" fill="#5b2a84"/>
<circle cx="149.36" cy="250.95" r="1.75" fill="#5b2a84"/>
<circle cx="159.78" cy="257.57" r="1.75" fill="#5b2a84"/>
<circle cx="170.2" cy="262.53" r="1.75" fill="#5b2a84"/>
<circle cx="180.62" cy="264.18" r="1.75" fill="#5b2a84"/>
<path d="M66 207.22V225.22M64 207.22H68M64 225.22H68" stroke="#3a72ac" stroke-width="0.95" fill="none"/>
<path d="M76.42 231.07V241.07M74.42 231.07H78.42M74.42 241.07H78.42" stroke="#3a72ac" stroke-width="0.95" fill="none"/>
<path d="M86.84 237.86V245.86M84.84 237.86H88.84M84.84 245.86H88.84" stroke="#3a72ac" stroke-width="0.95" fill="none"/>
<path d="M97.26 232.89V240.89M95.26 232.89H99.26M95.26 240.89H99.26" stroke="#3a72ac" stroke-width="0.95" fill="none"/>
<path d="M107.68 234.55V242.55M105.68 234.55H109.68M105.68 242.55H109.68" stroke="#3a72ac" stroke-width="0.95" fill="none"/>
<path d="M118.1 236.2V244.2M116.1 236.2H120.1M116.1 244.2H120.1" stroke="#3a72ac" stroke-width="0.95" fill="none"/>
<path d="M128.52 228.76V236.76M126.52 228.76H130.52M126.52 236.76H130.52" stroke="#3a72ac" stroke-width="0.95" fill="none"/>
<path d="M138.94 238.86V244.86M136.94 238.86H140.94M136.94 244.86H140.94" stroke="#3a72ac" stroke-width="0.95" fill="none"/>
<path d="M149.36 242.99V248.99M147.36 242.99H151.36M147.36 248.99H151.36" stroke="#3a72ac" stroke-width="0.95" fill="none"/>
<path d="M159.78 254.57V260.57M157.78 254.57H161.78M157.78 260.57H161.78" stroke="#3a72ac" stroke-width="0.95" fill="none"/>
<path d="M170.2 258.88V262.88M168.2 258.88H172.2M168.2 262.88H172.2" stroke="#3a72ac" stroke-width="0.95" fill="none"/>
<path d="M180.62 259.7V263.7M178.62 259.7H182.62M178.62 263.7H182.62" stroke="#3a72ac" stroke-width="0.95" fill="none"/>
<polyline points="66,216.22 76.42,236.07 86.84,241.86 97.26,236.89 107.68,238.55 118.1,240.2 128.52,232.76 138.94,241.86 149.36,245.99 159.78,257.57 170.2,260.88 180.62,261.7" fill="none" stroke="#1d5893" stroke-width="1.4" stroke-linejoin="round"/>
<circle cx="66" cy="216.22" r="1.75" fill="#1d5893"/>
<circle cx="76.42" cy="236.07" r="1.75" fill="#1d5893"/>
<circle cx="86.84" cy="241.86" r="1.75" fill="#1d5893"/>
<circle cx="97.26" cy="236.89" r="1.75" fill="#1d5893"/>
<circle cx="107.68" cy="238.55" r="1.75" fill="#1d5893"/>
<circle cx="118.1" cy="240.2" r="1.75" fill="#1d5893"/>
<circle cx="128.52" cy="232.76" r="1.75" fill="#1d5893"/>
<circle cx="138.94" cy="241.86" r="1.75" fill="#1d5893"/>
<circle cx="149.36" cy="245.99" r="1.75" fill="#1d5893"/>
<circle cx="159.78" cy="257.57" r="1.75" fill="#1d5893"/>
<circle cx="170.2" cy="260.88" r="1.75" fill="#1d5893"/>
<circle cx="180.62" cy="261.7" r="1.75" fill="#1d5893"/>
<path d="M66 204.74V222.74M64 204.74H68M64 222.74H68" stroke="#52b95a" stroke-width="0.95" fill="none"/>
<path d="M76.42 228.59V238.59M74.42 228.59H78.42M74.42 238.59H78.42" stroke="#52b95a" stroke-width="0.95" fill="none"/>
<path d="M86.84 233.22V242.22M84.84 233.22H88.84M84.84 242.22H88.84" stroke="#52b95a" stroke-width="0.95" fill="none"/>
<path d="M97.26 231.07V241.07M95.26 231.07H99.26M95.26 241.07H99.26" stroke="#52b95a" stroke-width="0.95" fill="none"/>
<path d="M107.68 232.72V242.72M105.68 232.72H109.68M105.68 242.72H109.68" stroke="#52b95a" stroke-width="0.95" fill="none"/>
<path d="M118.1 234.37V244.37M116.1 234.37H120.1M116.1 244.37H120.1" stroke="#52b95a" stroke-width="0.95" fill="none"/>
<path d="M128.52 216.18V226.18M126.52 216.18H130.52M126.52 226.18H130.52" stroke="#52b95a" stroke-width="0.95" fill="none"/>
<path d="M138.94 223.8V231.8M136.94 223.8H140.94M136.94 231.8H140.94" stroke="#52b95a" stroke-width="0.95" fill="none"/>
<path d="M149.36 227.1V235.1M147.36 227.1H151.36M147.36 235.1H151.36" stroke="#52b95a" stroke-width="0.95" fill="none"/>
<path d="M159.78 254.24V259.24M157.78 254.24H161.78M157.78 259.24H161.78" stroke="#52b95a" stroke-width="0.95" fill="none"/>
<path d="M170.2 258.05V262.05M168.2 258.05H172.2M168.2 262.05H172.2" stroke="#52b95a" stroke-width="0.95" fill="none"/>
<path d="M180.62 258.88V262.88M178.62 258.88H182.62M178.62 262.88H182.62" stroke="#52b95a" stroke-width="0.95" fill="none"/>
<polyline points="66,213.74 76.42,233.59 86.84,237.72 97.26,236.07 107.68,237.72 118.1,239.37 128.52,221.18 138.94,227.8 149.36,231.1 159.78,256.74 170.2,260.05 180.62,260.88" fill="none" stroke="#33b046" stroke-width="1.4" stroke-linejoin="round"/>
<circle cx="66" cy="213.74" r="1.75" fill="#33b046"/>
<circle cx="76.42" cy="233.59" r="1.75" fill="#33b046"/>
<circle cx="86.84" cy="237.72" r="1.75" fill="#33b046"/>
<circle cx="97.26" cy="236.07" r="1.75" fill="#33b046"/>
<circle cx="107.68" cy="237.72" r="1.75" fill="#33b046"/>
<circle cx="118.1" cy="239.37" r="1.75" fill="#33b046"/>
<circle cx="128.52" cy="221.18" r="1.75" fill="#33b046"/>
<circle cx="138.94" cy="227.8" r="1.75" fill="#33b046"/>
<circle cx="149.36" cy="231.1" r="1.75" fill="#33b046"/>
<circle cx="159.78" cy="256.74" r="1.75" fill="#33b046"/>
<circle cx="170.2" cy="260.05" r="1.75" fill="#33b046"/>
<circle cx="180.62" cy="260.88" r="1.75" fill="#33b046"/>
<path d="M66 203.08V221.08M64 203.08H68M64 221.08H68" stroke="#d84566" stroke-width="0.95" fill="none"/>
<path d="M76.42 228.76V236.76M74.42 228.76H78.42M74.42 236.76H78.42" stroke="#d84566" stroke-width="0.95" fill="none"/>
<path d="M86.84 234.55V242.55M84.84 234.55H88.84M84.84 242.55H88.84" stroke="#d84566" stroke-width="0.95" fill="none"/>
<path d="M97.26 231.24V239.24M95.26 231.24H99.26M95.26 239.24H99.26" stroke="#d84566" stroke-width="0.95" fill="none"/>
<path d="M107.68 232.89V240.89M105.68 232.89H109.68M105.68 240.89H109.68" stroke="#d84566" stroke-width="0.95" fill="none"/>
<path d="M118.1 234.55V242.55M116.1 234.55H120.1M116.1 242.55H120.1" stroke="#d84566" stroke-width="0.95" fill="none"/>
<path d="M128.52 226.45V232.45M126.52 226.45H130.52M126.52 232.45H130.52" stroke="#d84566" stroke-width="0.95" fill="none"/>
<path d="M138.94 234.72V240.72M136.94 234.72H140.94M136.94 240.72H140.94" stroke="#d84566" stroke-width="0.95" fill="none"/>
<path d="M149.36 235.96V241.96M147.36 235.96H151.36M147.36 241.96H151.36" stroke="#d84566" stroke-width="0.95" fill="none"/>
<path d="M159.78 254.57V260.57M157.78 254.57H161.78M157.78 260.57H161.78" stroke="#d84566" stroke-width="0.95" fill="none"/>
<path d="M170.2 259.7V263.7M168.2 259.7H172.2M168.2 263.7H172.2" stroke="#d84566" stroke-width="0.95" fill="none"/>
<path d="M180.62 260.53V264.53M178.62 260.53H182.62M178.62 264.53H182.62" stroke="#d84566" stroke-width="0.95" fill="none"/>
<polyline points="66,212.08 76.42,232.76 86.84,238.55 97.26,235.24 107.68,236.89 118.1,238.55 128.52,229.45 138.94,237.72 149.36,238.96 159.78,257.57 170.2,261.7 180.62,262.53" fill="none" stroke="#d01c3e" stroke-width="1.4" stroke-linejoin="round"/>
<circle cx="66" cy="212.08" r="1.75" fill="#d01c3e"/>
<circle cx="76.42" cy="232.76" r="1.75" fill="#d01c3e"/>
<circle cx="86.84" cy="238.55" r="1.75" fill="#d01c3e"/>
<circle cx="97.26" cy="235.24" r="1.75" fill="#d01c3e"/>
<circle cx="107.68" cy="236.89" r="1.75" fill="#d01c3e"/>
<circle cx="118.1" cy="238.55" r="1.75" fill="#d01c3e"/>
<circle cx="128.52" cy="229.45" r="1.75" fill="#d01c3e"/>
<circle cx="138.94" cy="237.72" r="1.75" fill="#d01c3e"/>
<circle cx="149.36" cy="238.96" r="1.75" fill="#d01c3e"/>
<circle cx="159.78" cy="257.57" r="1.75" fill="#d01c3e"/>
<circle cx="170.2" cy="261.7" r="1.75" fill="#d01c3e"/>
<circle cx="180.62" cy="262.53" r="1.75" fill="#d01c3e"/>
<text x="91.5" y="210.2" font-size="7.2" text-anchor="middle" font-weight="normal" font-style="normal" fill="#000">Glucose</text>
<line x1="91.5" y1="213" x2="91.5" y2="228.6" stroke="#000" stroke-width="0.9" stroke-linecap="butt"/>
<path d="M89.3 228.1L93.7 228.1L91.5 232.9Z" fill="#000"/>
<text x="122.7" y="203" font-size="7.2" text-anchor="middle" font-weight="normal" font-style="normal" fill="#000">Oligomycin</text>
<line x1="123" y1="206" x2="123" y2="221.9" stroke="#000" stroke-width="0.9" stroke-linecap="butt"/>
<path d="M120.8 221.4L125.2 221.4L123 226.2Z" fill="#000"/>
<text x="154.6" y="215.8" font-size="7.2" text-anchor="middle" font-weight="normal" font-style="normal" fill="#000">2-DG</text>
<line x1="156.2" y1="218.5" x2="156.2" y2="233.7" stroke="#000" stroke-width="0.9" stroke-linecap="butt"/>
<path d="M154 233.2L158.4 233.2L156.2 238Z" fill="#000"/>
<text x="229.1" y="171.8" font-size="11.5" text-anchor="start" font-weight="bold" font-style="normal" fill="#000">D</text>
<text x="316.2" y="179.7" font-size="9.3" text-anchor="start" font-weight="normal" font-style="normal" fill="#000" textLength="60.2" lengthAdjust="spacingAndGlyphs">Mito stress test</text>
<line x1="281.5" y1="182.8" x2="281.5" y2="271.7" stroke="#000" stroke-width="1.2" stroke-linecap="butt"/>
<line x1="278.3" y1="271.2" x2="281.5" y2="271.2" stroke="#000" stroke-width="1" stroke-linecap="butt"/>
<text x="275.9" y="273.8" font-size="7.4" text-anchor="end" font-weight="normal" font-style="normal" fill="#000">0</text>
<line x1="278.3" y1="243.5" x2="281.5" y2="243.5" stroke="#000" stroke-width="1" stroke-linecap="butt"/>
<text x="275.9" y="246.1" font-size="7.4" text-anchor="end" font-weight="normal" font-style="normal" fill="#000">2</text>
<line x1="278.3" y1="215.8" x2="281.5" y2="215.8" stroke="#000" stroke-width="1" stroke-linecap="butt"/>
<text x="275.9" y="218.4" font-size="7.4" text-anchor="end" font-weight="normal" font-style="normal" fill="#000">4</text>
<line x1="278.3" y1="188.1" x2="281.5" y2="188.1" stroke="#000" stroke-width="1" stroke-linecap="butt"/>
<text x="275.9" y="190.7" font-size="7.4" text-anchor="end" font-weight="normal" font-style="normal" fill="#000">6</text>
<line x1="280.7" y1="270.9" x2="411.7" y2="270.9" stroke="#000" stroke-width="1.2" stroke-linecap="butt"/>
<line x1="281.7" y1="270.9" x2="281.7" y2="273.9" stroke="#000" stroke-width="1" stroke-linecap="butt"/>
<text x="281.7" y="282.9" font-size="7.5" text-anchor="middle" font-weight="normal" font-style="normal" fill="#000">0</text>
<line x1="312.72" y1="270.9" x2="312.72" y2="273.9" stroke="#000" stroke-width="1" stroke-linecap="butt"/>
<text x="312.72" y="282.9" font-size="7.5" text-anchor="middle" font-weight="normal" font-style="normal" fill="#000">20</text>
<line x1="343.74" y1="270.9" x2="343.74" y2="273.9" stroke="#000" stroke-width="1" stroke-linecap="butt"/>
<text x="343.74" y="282.9" font-size="7.5" text-anchor="middle" font-weight="normal" font-style="normal" fill="#000">40</text>
<line x1="374.76" y1="270.9" x2="374.76" y2="273.9" stroke="#000" stroke-width="1" stroke-linecap="butt"/>
<text x="374.76" y="282.9" font-size="7.5" text-anchor="middle" font-weight="normal" font-style="normal" fill="#000">60</text>
<line x1="405.78" y1="270.9" x2="405.78" y2="273.9" stroke="#000" stroke-width="1" stroke-linecap="butt"/>
<text x="405.78" y="282.9" font-size="7.5" text-anchor="middle" font-weight="normal" font-style="normal" fill="#000">80</text>
<text x="346" y="295" font-size="8.9" text-anchor="middle" font-weight="normal" font-style="normal" fill="#000" stroke="#000" stroke-width="0.22" textLength="42" lengthAdjust="spacingAndGlyphs">Time (minutes)</text>
<text transform="translate(264.6 226.9) rotate(-90)" x="0" y="0" font-size="9.4" text-anchor="middle" font-weight="normal" font-style="normal" fill="#000" stroke="#000" stroke-width="0.25" textLength="78.3" lengthAdjust="spacingAndGlyphs">OCR (pmol/min/norm. unit)</text>
<line x1="280.9" y1="306" x2="408.3" y2="306" stroke="#000" stroke-width="1.1" stroke-linecap="butt"/>
<line x1="280.9" y1="303.2" x2="280.9" y2="308.8" stroke="#000" stroke-width="1" stroke-linecap="butt"/>
<line x1="374.5" y1="303.2" x2="374.5" y2="308.8" stroke="#000" stroke-width="1" stroke-linecap="butt"/>
<text x="280.9" y="317.8" font-size="7.6" text-anchor="middle" font-weight="normal" font-style="normal" fill="#000">24</text>
<text x="374.5" y="317.8" font-size="7.6" text-anchor="middle" font-weight="normal" font-style="normal" fill="#000">25</text>
<text x="344.6" y="330.6" font-size="9" text-anchor="middle" font-weight="normal" font-style="normal" fill="#000" stroke="#000" stroke-width="0.22" textLength="98.5" lengthAdjust="spacingAndGlyphs">Time post IFN&#947; stimulation (hours)</text>
<path d="M283.5 245.66V249.66M281.5 245.66H285.5M281.5 249.66H285.5" stroke="#6c3f8f" stroke-width="0.95" fill="none"/>
<path d="M293.67 246.35V250.35M291.67 246.35H295.67M291.67 250.35H295.67" stroke="#6c3f8f" stroke-width="0.95" fill="none"/>
<path d="M303.84 247.04V251.04M301.84 247.04H305.84M301.84 251.04H305.84" stroke="#6c3f8f" stroke-width="0.95" fill="none"/>
<path d="M314.01 260V263M312.01 260H316.01M312.01 263H316.01" stroke="#6c3f8f" stroke-width="0.95" fill="none"/>
<path d="M324.18 260.7V263.7M322.18 260.7H326.18M322.18 263.7H326.18" stroke="#6c3f8f" stroke-width="0.95" fill="none"/>
<path d="M334.35 260.7V263.7M332.35 260.7H336.35M332.35 263.7H336.35" stroke="#6c3f8f" stroke-width="0.95" fill="none"/>
<path d="M344.52 248.42V252.42M342.52 248.42H346.52M342.52 252.42H346.52" stroke="#6c3f8f" stroke-width="0.95" fill="none"/>
<path d="M354.69 251.19V255.19M352.69 251.19H356.69M352.69 255.19H356.69" stroke="#6c3f8f" stroke-width="0.95" fill="none"/>
<path d="M364.86 251.89V255.89M362.86 251.89H366.86M362.86 255.89H366.86" stroke="#6c3f8f" stroke-width="0.95" fill="none"/>
<path d="M375.03 262.08V265.08M373.03 262.08H377.03M373.03 265.08H377.03" stroke="#6c3f8f" stroke-width="0.95" fill="none"/>
<path d="M385.2 262.5V265.5M383.2 262.5H387.2M383.2 265.5H387.2" stroke="#6c3f8f" stroke-width="0.95" fill="none"/>
<path d="M395.37 262.77V265.77M393.37 262.77H397.37M393.37 265.77H397.37" stroke="#6c3f8f" stroke-width="0.95" fill="none"/>
<polyline points="283.5,247.66 293.67,248.35 303.84,249.04 314.01,261.5 324.18,262.2 334.35,262.2 344.52,250.42 354.69,253.19 364.86,253.89 375.03,263.58 385.2,264 395.37,264.27" fill="none" stroke="#5b2a84" stroke-width="1.4" stroke-linejoin="round"/>
<circle cx="283.5" cy="247.66" r="1.75" fill="#5b2a84"/>
<circle cx="293.67" cy="248.35" r="1.75" fill="#5b2a84"/>
<circle cx="303.84" cy="249.04" r="1.75" fill="#5b2a84"/>
<circle cx="314.01" cy="261.5" r="1.75" fill="#5b2a84"/>
<circle cx="324.18" cy="262.2" r="1.75" fill="#5b2a84"/>
<circle cx="334.35" cy="262.2" r="1.75" fill="#5b2a84"/>
<circle cx="344.52" cy="250.42" r="1.75" fill="#5b2a84"/>
<circle cx="354.69" cy="253.19" r="1.75" fill="#5b2a84"/>
<circle cx="364.86" cy="253.89" r="1.75" fill="#5b2a84"/>
<circle cx="375.03" cy="263.58" r="1.75" fill="#5b2a84"/>
<circle cx="385.2" cy="264" r="1.75" fill="#5b2a84"/>
<circle cx="395.37" cy="264.27" r="1.75" fill="#5b2a84"/>
<path d="M283.5 238.5V248.5M281.5 238.5H285.5M281.5 248.5H285.5" stroke="#3a72ac" stroke-width="0.95" fill="none"/>
<path d="M293.67 238.5V248.5M291.67 238.5H295.67M291.67 248.5H295.67" stroke="#3a72ac" stroke-width="0.95" fill="none"/>
<path d="M303.84 238.5V248.5M301.84 238.5H305.84M301.84 248.5H305.84" stroke="#3a72ac" stroke-width="0.95" fill="none"/>
<path d="M314.01 259.31V262.31M312.01 259.31H316.01M312.01 262.31H316.01" stroke="#3a72ac" stroke-width="0.95" fill="none"/>
<path d="M324.18 260V263M322.18 260H326.18M322.18 263H326.18" stroke="#3a72ac" stroke-width="0.95" fill="none"/>
<path d="M334.35 260V263M332.35 260H336.35M332.35 263H336.35" stroke="#3a72ac" stroke-width="0.95" fill="none"/>
<path d="M344.52 244.59V254.59M342.52 244.59H346.52M342.52 254.59H346.52" stroke="#3a72ac" stroke-width="0.95" fill="none"/>
<path d="M354.69 247.09V257.09M352.69 247.09H356.69M352.69 257.09H356.69" stroke="#3a72ac" stroke-width="0.95" fill="none"/>
<path d="M364.86 249.06V257.06M362.86 249.06H366.86M362.86 257.06H366.86" stroke="#3a72ac" stroke-width="0.95" fill="none"/>
<path d="M375.03 261.25V264.25M373.03 261.25H377.03M373.03 264.25H377.03" stroke="#3a72ac" stroke-width="0.95" fill="none"/>
<path d="M385.2 261.39V264.39M383.2 261.39H387.2M383.2 264.39H387.2" stroke="#3a72ac" stroke-width="0.95" fill="none"/>
<path d="M395.37 261.67V264.67M393.37 261.67H397.37M393.37 264.67H397.37" stroke="#3a72ac" stroke-width="0.95" fill="none"/>
<polyline points="283.5,243.5 293.67,243.5 303.84,243.5 314.01,260.81 324.18,261.5 334.35,261.5 344.52,249.59 354.69,252.09 364.86,253.06 375.03,262.75 385.2,262.89 395.37,263.17" fill="none" stroke="#1d5893" stroke-width="1.4" stroke-linejoin="round"/>
<circle cx="283.5" cy="243.5" r="1.75" fill="#1d5893"/>
<circle cx="293.67" cy="243.5" r="1.75" fill="#1d5893"/>
<circle cx="303.84" cy="243.5" r="1.75" fill="#1d5893"/>
<circle cx="314.01" cy="260.81" r="1.75" fill="#1d5893"/>
<circle cx="324.18" cy="261.5" r="1.75" fill="#1d5893"/>
<circle cx="334.35" cy="261.5" r="1.75" fill="#1d5893"/>
<circle cx="344.52" cy="249.59" r="1.75" fill="#1d5893"/>
<circle cx="354.69" cy="252.09" r="1.75" fill="#1d5893"/>
<circle cx="364.86" cy="253.06" r="1.75" fill="#1d5893"/>
<circle cx="375.03" cy="262.75" r="1.75" fill="#1d5893"/>
<circle cx="385.2" cy="262.89" r="1.75" fill="#1d5893"/>
<circle cx="395.37" cy="263.17" r="1.75" fill="#1d5893"/>
<path d="M283.5 202.95V218.95M281.5 202.95H285.5M281.5 218.95H285.5" stroke="#52b95a" stroke-width="0.95" fill="none"/>
<path d="M293.67 206.03V220.03M291.67 206.03H295.67M291.67 220.03H295.67" stroke="#52b95a" stroke-width="0.95" fill="none"/>
<path d="M303.84 206.72V220.72M301.84 206.72H305.84M301.84 220.72H305.84" stroke="#52b95a" stroke-width="0.95" fill="none"/>
<path d="M314.01 242.96V250.96M312.01 242.96H316.01M312.01 250.96H316.01" stroke="#52b95a" stroke-width="0.95" fill="none"/>
<path d="M324.18 247.42V253.42M322.18 247.42H326.18M322.18 253.42H326.18" stroke="#52b95a" stroke-width="0.95" fill="none"/>
<path d="M334.35 250.19V256.19M332.35 250.19H336.35M332.35 256.19H336.35" stroke="#52b95a" stroke-width="0.95" fill="none"/>
<path d="M344.52 229.12V250.12M342.52 229.12H346.52M342.52 250.12H346.52" stroke="#52b95a" stroke-width="0.95" fill="none"/>
<path d="M354.69 234.03V251.03M352.69 234.03H356.69M352.69 251.03H356.69" stroke="#52b95a" stroke-width="0.95" fill="none"/>
<path d="M364.86 238.94V251.94M362.86 238.94H366.86M362.86 251.94H366.86" stroke="#52b95a" stroke-width="0.95" fill="none"/>
<path d="M375.03 255.4V260.4M373.03 255.4H377.03M373.03 260.4H377.03" stroke="#52b95a" stroke-width="0.95" fill="none"/>
<path d="M385.2 256.24V261.24M383.2 256.24H387.2M383.2 261.24H387.2" stroke="#52b95a" stroke-width="0.95" fill="none"/>
<path d="M395.37 256.93V261.93M393.37 256.93H397.37M393.37 261.93H397.37" stroke="#52b95a" stroke-width="0.95" fill="none"/>
<polyline points="283.5,210.95 293.67,213.03 303.84,213.72 314.01,246.96 324.18,250.42 334.35,253.19 344.52,239.62 354.69,242.53 364.86,245.44 375.03,257.9 385.2,258.74 395.37,259.43" fill="none" stroke="#33b046" stroke-width="1.4" stroke-linejoin="round"/>
<circle cx="283.5" cy="210.95" r="1.75" fill="#33b046"/>
<circle cx="293.67" cy="213.03" r="1.75" fill="#33b046"/>
<circle cx="303.84" cy="213.72" r="1.75" fill="#33b046"/>
<circle cx="314.01" cy="246.96" r="1.75" fill="#33b046"/>
<circle cx="324.18" cy="250.42" r="1.75" fill="#33b046"/>
<circle cx="334.35" cy="253.19" r="1.75" fill="#33b046"/>
<circle cx="344.52" cy="239.62" r="1.75" fill="#33b046"/>
<circle cx="354.69" cy="242.53" r="1.75" fill="#33b046"/>
<circle cx="364.86" cy="245.44" r="1.75" fill="#33b046"/>
<circle cx="375.03" cy="257.9" r="1.75" fill="#33b046"/>
<circle cx="385.2" cy="258.74" r="1.75" fill="#33b046"/>
<circle cx="395.37" cy="259.43" r="1.75" fill="#33b046"/>
<path d="M283.5 230.11V236.11M281.5 230.11H285.5M281.5 236.11H285.5" stroke="#d84566" stroke-width="0.95" fill="none"/>
<path d="M293.67 231.5V237.5M291.67 231.5H295.67M291.67 237.5H295.67" stroke="#d84566" stroke-width="0.95" fill="none"/>
<path d="M303.84 231.5V237.5M301.84 231.5H305.84M301.84 237.5H305.84" stroke="#d84566" stroke-width="0.95" fill="none"/>
<path d="M314.01 254.46V257.46M312.01 254.46H316.01M312.01 257.46H316.01" stroke="#d84566" stroke-width="0.95" fill="none"/>
<path d="M324.18 256.54V259.54M322.18 256.54H326.18M322.18 259.54H326.18" stroke="#d84566" stroke-width="0.95" fill="none"/>
<path d="M334.35 256.54V259.54M332.35 256.54H336.35M332.35 259.54H336.35" stroke="#d84566" stroke-width="0.95" fill="none"/>
<path d="M344.52 242.02V248.02M342.52 242.02H346.52M342.52 248.02H346.52" stroke="#d84566" stroke-width="0.95" fill="none"/>
<path d="M354.69 244.66V250.66M352.69 244.66H356.69M352.69 250.66H356.69" stroke="#d84566" stroke-width="0.95" fill="none"/>
<path d="M364.86 247.15V253.15M362.86 247.15H366.86M362.86 253.15H366.86" stroke="#d84566" stroke-width="0.95" fill="none"/>
<path d="M375.03 258.9V261.9M373.03 258.9H377.03M373.03 261.9H377.03" stroke="#d84566" stroke-width="0.95" fill="none"/>
<path d="M385.2 259.31V262.31M383.2 259.31H387.2M383.2 262.31H387.2" stroke="#d84566" stroke-width="0.95" fill="none"/>
<path d="M395.37 259.73V262.73M393.37 259.73H397.37M393.37 262.73H397.37" stroke="#d84566" stroke-width="0.95" fill="none"/>
<polyline points="283.5,233.11 293.67,234.5 303.84,234.5 314.01,255.96 324.18,258.04 334.35,258.04 344.52,245.02 354.69,247.66 364.86,250.15 375.03,260.4 385.2,260.81 395.37,261.23" fill="none" stroke="#d01c3e" stroke-width="1.4" stroke-linejoin="round"/>
<circle cx="283.5" cy="233.11" r="1.75" fill="#d01c3e"/>
<circle cx="293.67" cy="234.5" r="1.75" fill="#d01c3e"/>
<circle cx="303.84" cy="234.5" r="1.75" fill="#d01c3e"/>
<circle cx="314.01" cy="255.96" r="1.75" fill="#d01c3e"/>
<circle cx="324.18" cy="258.04" r="1.75" fill="#d01c3e"/>
<circle cx="334.35" cy="258.04" r="1.75" fill="#d01c3e"/>
<circle cx="344.52" cy="245.02" r="1.75" fill="#d01c3e"/>
<circle cx="354.69" cy="247.66" r="1.75" fill="#d01c3e"/>
<circle cx="364.86" cy="250.15" r="1.75" fill="#d01c3e"/>
<circle cx="375.03" cy="260.4" r="1.75" fill="#d01c3e"/>
<circle cx="385.2" cy="260.81" r="1.75" fill="#d01c3e"/>
<circle cx="395.37" cy="261.23" r="1.75" fill="#d01c3e"/>
<text x="311.2" y="202.5" font-size="7.2" text-anchor="middle" font-weight="normal" font-style="normal" fill="#000">Oligomycin</text>
<line x1="311.3" y1="206" x2="311.3" y2="221.7" stroke="#000" stroke-width="0.9" stroke-linecap="butt"/>
<path d="M309.1 221.2L313.5 221.2L311.3 226Z" fill="#000"/>
<text x="338.6" y="221.5" font-size="7.2" text-anchor="middle" font-weight="normal" font-style="normal" fill="#000">FCCP</text>
<line x1="338.3" y1="224.6" x2="338.3" y2="240.7" stroke="#000" stroke-width="0.9" stroke-linecap="butt"/>
<path d="M336.1 240.2L340.5 240.2L338.3 245Z" fill="#000"/>
<text x="372" y="225" font-size="7.2" text-anchor="middle" font-weight="normal" font-style="normal" fill="#000">Rot/AA</text>
<line x1="371.9" y1="228" x2="371.9" y2="244" stroke="#000" stroke-width="0.9" stroke-linecap="butt"/>
<path d="M369.7 243.5L374.1 243.5L371.9 248.3Z" fill="#000"/>
<line x1="416.2" y1="207.8" x2="428.8" y2="207.8" stroke="#5b2a84" stroke-width="1.3" stroke-linecap="butt"/>
<circle cx="422.5" cy="207.8" r="1.6" fill="#5b2a84"/>
<text x="431.8" y="210.3" font-size="6.9" text-anchor="start" font-weight="normal" font-style="normal" fill="#000">M(0)</text>
<line x1="416.2" y1="220.5" x2="428.8" y2="220.5" stroke="#1d5893" stroke-width="1.3" stroke-linecap="butt"/>
<circle cx="422.5" cy="220.5" r="1.6" fill="#1d5893"/>
<text x="431.8" y="223" font-size="6.9" text-anchor="start" font-weight="normal" font-style="normal" fill="#000">M(LPS)</text>
<line x1="416.2" y1="233.2" x2="428.8" y2="233.2" stroke="#33b046" stroke-width="1.3" stroke-linecap="butt"/>
<circle cx="422.5" cy="233.2" r="1.6" fill="#33b046"/>
<text x="431.8" y="235.7" font-size="6.9" text-anchor="start" font-weight="normal" font-style="normal" fill="#000">M(IFN&#947;)</text>
<line x1="416.2" y1="245.4" x2="428.8" y2="245.4" stroke="#d01c3e" stroke-width="1.3" stroke-linecap="butt"/>
<circle cx="422.5" cy="245.4" r="1.6" fill="#d01c3e"/>
<text x="431.8" y="247.9" font-size="6.9" text-anchor="start" font-weight="normal" font-style="normal" fill="#000">M(LPS+IFN&#947;)</text>
<text x="7.9" y="359.7" font-size="11.5" text-anchor="start" font-weight="bold" font-style="normal" fill="#000">E</text>
<text x="105" y="367.1" font-size="9.3" text-anchor="middle" font-weight="normal" font-style="normal" fill="#000" textLength="88.5" lengthAdjust="spacingAndGlyphs">PMA stimulated ECAR</text>
<line x1="39" y1="380" x2="39" y2="470.6" stroke="#000" stroke-width="1.4" stroke-linecap="butt"/>
<line x1="35.8" y1="470.1" x2="39" y2="470.1" stroke="#000" stroke-width="1" stroke-linecap="butt"/>
<text x="33" y="472.7" font-size="7.4" text-anchor="end" font-weight="normal" font-style="normal" fill="#000">0.0</text>
<line x1="35.8" y1="442.1" x2="39" y2="442.1" stroke="#000" stroke-width="1" stroke-linecap="butt"/>
<text x="33" y="444.7" font-size="7.4" text-anchor="end" font-weight="normal" font-style="normal" fill="#000">0.5</text>
<line x1="35.8" y1="414.1" x2="39" y2="414.1" stroke="#000" stroke-width="1" stroke-linecap="butt"/>
<text x="33" y="416.7" font-size="7.4" text-anchor="end" font-weight="normal" font-style="normal" fill="#000">1.0</text>
<line x1="35.8" y1="386.1" x2="39" y2="386.1" stroke="#000" stroke-width="1" stroke-linecap="butt"/>
<text x="33" y="388.7" font-size="7.4" text-anchor="end" font-weight="normal" font-style="normal" fill="#000">1.5</text>
<line x1="38.5" y1="470.3" x2="172.7" y2="470.3" stroke="#000" stroke-width="1.2" stroke-linecap="butt"/>
<line x1="38.7" y1="470.3" x2="38.7" y2="473.3" stroke="#000" stroke-width="1" stroke-linecap="butt"/>
<text x="38.7" y="482.3" font-size="7.5" text-anchor="middle" font-weight="normal" font-style="normal" fill="#000">0</text>
<line x1="64.26" y1="470.3" x2="64.26" y2="473.3" stroke="#000" stroke-width="1" stroke-linecap="butt"/>
<text x="64.26" y="482.3" font-size="7.5" text-anchor="middle" font-weight="normal" font-style="normal" fill="#000">20</text>
<line x1="89.82" y1="470.3" x2="89.82" y2="473.3" stroke="#000" stroke-width="1" stroke-linecap="butt"/>
<text x="89.82" y="482.3" font-size="7.5" text-anchor="middle" font-weight="normal" font-style="normal" fill="#000">40</text>
<line x1="115.38" y1="470.3" x2="115.38" y2="473.3" stroke="#000" stroke-width="1" stroke-linecap="butt"/>
<text x="115.38" y="482.3" font-size="7.5" text-anchor="middle" font-weight="normal" font-style="normal" fill="#000">60</text>
<line x1="140.94" y1="470.3" x2="140.94" y2="473.3" stroke="#000" stroke-width="1" stroke-linecap="butt"/>
<text x="140.94" y="482.3" font-size="7.5" text-anchor="middle" font-weight="normal" font-style="normal" fill="#000">80</text>
<line x1="166.5" y1="470.3" x2="166.5" y2="473.3" stroke="#000" stroke-width="1" stroke-linecap="butt"/>
<text x="166.5" y="482.3" font-size="7.5" text-anchor="middle" font-weight="normal" font-style="normal" fill="#000">100</text>
<text x="104.2" y="494" font-size="8.9" text-anchor="middle" font-weight="normal" font-style="normal" fill="#000" stroke="#000" stroke-width="0.22" textLength="42" lengthAdjust="spacingAndGlyphs">Time (minutes)</text>
<text transform="translate(16.4 425.5) rotate(-90)" x="0" y="0" font-size="9.4" text-anchor="middle" font-weight="normal" font-style="normal" fill="#000" stroke="#000" stroke-width="0.25" textLength="80.3" lengthAdjust="spacingAndGlyphs">ECAR (mpH/min/norm. unit)</text>
<line x1="38.9" y1="503.8" x2="165.8" y2="503.8" stroke="#000" stroke-width="1.1" stroke-linecap="butt"/>
<line x1="38.9" y1="501" x2="38.9" y2="506.6" stroke="#000" stroke-width="1" stroke-linecap="butt"/>
<line x1="114.9" y1="501" x2="114.9" y2="506.6" stroke="#000" stroke-width="1" stroke-linecap="butt"/>
<text x="38.9" y="515.6" font-size="7.6" text-anchor="middle" font-weight="normal" font-style="normal" fill="#000">24</text>
<text x="114.9" y="515.6" font-size="7.6" text-anchor="middle" font-weight="normal" font-style="normal" fill="#000">25</text>
<text x="102.4" y="528.1" font-size="9" text-anchor="middle" font-weight="normal" font-style="normal" fill="#000" stroke="#000" stroke-width="0.22" textLength="98.5" lengthAdjust="spacingAndGlyphs">Time post IFN&#947; stimulation (hours)</text>
<path d="M40.6 420.7V436.7M38.6 420.7H42.6M38.6 436.7H42.6" stroke="#52b95a" stroke-width="0.95" fill="none"/>
<path d="M48.92 428V444M46.92 428H50.92M46.92 444H50.92" stroke="#52b95a" stroke-width="0.95" fill="none"/>
<path d="M57.24 430.3V446.3M55.24 430.3H59.24M55.24 446.3H59.24" stroke="#52b95a" stroke-width="0.95" fill="none"/>
<path d="M65.56 432.3V447.3M63.56 432.3H67.56M63.56 447.3H67.56" stroke="#52b95a" stroke-width="0.95" fill="none"/>
<path d="M73.88 433.6V447.6M71.88 433.6H75.88M71.88 447.6H75.88" stroke="#52b95a" stroke-width="0.95" fill="none"/>
<path d="M82.2 431.8V447.4M80.2 431.8H84.2M80.2 447.4H84.2" stroke="#52b95a" stroke-width="0.95" fill="none"/>
<path d="M90.52 427.7V437.7M88.52 427.7H92.52M88.52 437.7H92.52" stroke="#52b95a" stroke-width="0.95" fill="none"/>
<path d="M98.84 420.3V428.3M96.84 420.3H100.84M96.84 428.3H100.84" stroke="#52b95a" stroke-width="0.95" fill="none"/>
<path d="M107.16 407.8V414.8M105.16 407.8H109.16M105.16 414.8H109.16" stroke="#52b95a" stroke-width="0.95" fill="none"/>
<path d="M115.48 401.8V407.8M113.48 401.8H117.48M113.48 407.8H117.48" stroke="#52b95a" stroke-width="0.95" fill="none"/>
<path d="M123.8 400V405M121.8 400H125.8M121.8 405H125.8" stroke="#52b95a" stroke-width="0.95" fill="none"/>
<path d="M132.12 399.4V404.4M130.12 399.4H134.12M130.12 404.4H134.12" stroke="#52b95a" stroke-width="0.95" fill="none"/>
<path d="M140.44 404.5V410.5M138.44 404.5H142.44M138.44 410.5H142.44" stroke="#52b95a" stroke-width="0.95" fill="none"/>
<path d="M148.76 413.7V419.7M146.76 413.7H150.76M146.76 419.7H150.76" stroke="#52b95a" stroke-width="0.95" fill="none"/>
<path d="M157.08 418V424M155.08 418H159.08M155.08 424H159.08" stroke="#52b95a" stroke-width="0.95" fill="none"/>
<path d="M165.4 418.9V424.9M163.4 418.9H167.4M163.4 424.9H167.4" stroke="#52b95a" stroke-width="0.95" fill="none"/>
<polyline points="40.6,428.7 48.92,436 57.24,438.3 65.56,439.8 73.88,440.6 82.2,439.6 90.52,432.7 98.84,424.3 107.16,411.3 115.48,404.8 123.8,402.5 132.12,401.9 140.44,407.5 148.76,416.7 157.08,421 165.4,421.9" fill="none" stroke="#33b046" stroke-width="1.1" stroke-linejoin="round"/>
<circle cx="40.6" cy="428.7" r="1.3" fill="#33b046"/>
<circle cx="48.92" cy="436" r="1.3" fill="#33b046"/>
<circle cx="57.24" cy="438.3" r="1.3" fill="#33b046"/>
<circle cx="65.56" cy="439.8" r="1.3" fill="#33b046"/>
<circle cx="73.88" cy="440.6" r="1.3" fill="#33b046"/>
<circle cx="82.2" cy="439.6" r="1.3" fill="#33b046"/>
<circle cx="90.52" cy="432.7" r="1.3" fill="#33b046"/>
<circle cx="98.84" cy="424.3" r="1.3" fill="#33b046"/>
<circle cx="107.16" cy="411.3" r="1.3" fill="#33b046"/>
<circle cx="115.48" cy="404.8" r="1.3" fill="#33b046"/>
<circle cx="123.8" cy="402.5" r="1.3" fill="#33b046"/>
<circle cx="132.12" cy="401.9" r="1.3" fill="#33b046"/>
<circle cx="140.44" cy="407.5" r="1.3" fill="#33b046"/>
<circle cx="148.76" cy="416.7" r="1.3" fill="#33b046"/>
<circle cx="157.08" cy="421" r="1.3" fill="#33b046"/>
<circle cx="165.4" cy="421.9" r="1.3" fill="#33b046"/>
<path d="M40.6 432.2V443.2M38.6 432.2H42.6M38.6 443.2H42.6" stroke="#6c3f8f" stroke-width="0.95" fill="none"/>
<path d="M48.92 437.5V447.5M46.92 437.5H50.92M46.92 447.5H50.92" stroke="#6c3f8f" stroke-width="0.95" fill="none"/>
<path d="M57.24 437.5V448.5M55.24 437.5H59.24M55.24 448.5H59.24" stroke="#6c3f8f" stroke-width="0.95" fill="none"/>
<path d="M65.56 437V449M63.56 437H67.56M63.56 449H67.56" stroke="#6c3f8f" stroke-width="0.95" fill="none"/>
<path d="M73.88 436.5V449.5M71.88 436.5H75.88M71.88 449.5H75.88" stroke="#6c3f8f" stroke-width="0.95" fill="none"/>
<path d="M82.2 433.8V444.2M80.2 433.8H84.2M80.2 444.2H84.2" stroke="#6c3f8f" stroke-width="0.95" fill="none"/>
<path d="M90.52 429.3V437.3M88.52 429.3H92.52M88.52 437.3H92.52" stroke="#6c3f8f" stroke-width="0.95" fill="none"/>
<path d="M98.84 419.8V428.8M96.84 419.8H100.84M96.84 428.8H100.84" stroke="#6c3f8f" stroke-width="0.95" fill="none"/>
<path d="M107.16 413.4V423.2M105.16 413.4H109.16M105.16 423.2H109.16" stroke="#6c3f8f" stroke-width="0.95" fill="none"/>
<path d="M115.48 409.8V419.8M113.48 409.8H117.48M113.48 419.8H117.48" stroke="#6c3f8f" stroke-width="0.95" fill="none"/>
<path d="M123.8 408.7V418.7M121.8 408.7H125.8M121.8 418.7H125.8" stroke="#6c3f8f" stroke-width="0.95" fill="none"/>
<path d="M132.12 408.1V418.1M130.12 408.1H134.12M130.12 418.1H134.12" stroke="#6c3f8f" stroke-width="0.95" fill="none"/>
<path d="M140.44 407.7V417.7M138.44 407.7H142.44M138.44 417.7H142.44" stroke="#6c3f8f" stroke-width="0.95" fill="none"/>
<path d="M148.76 415.6V423.6M146.76 415.6H150.76M146.76 423.6H150.76" stroke="#6c3f8f" stroke-width="0.95" fill="none"/>
<path d="M157.08 419.8V427.8M155.08 419.8H159.08M155.08 427.8H159.08" stroke="#6c3f8f" stroke-width="0.95" fill="none"/>
<path d="M165.4 420.2V428.2M163.4 420.2H167.4M163.4 428.2H167.4" stroke="#6c3f8f" stroke-width="0.95" fill="none"/>
<polyline points="40.6,437.7 48.92,442.5 57.24,443 65.56,443 73.88,443 82.2,439 90.52,433.3 98.84,424.3 107.16,418.3 115.48,414.8 123.8,413.7 132.12,413.1 140.44,412.7 148.76,419.6 157.08,423.8 165.4,424.2" fill="none" stroke="#5b2a84" stroke-width="1.1" stroke-linejoin="round"/>
<circle cx="40.6" cy="437.7" r="1.6" fill="#5b2a84"/>
<circle cx="48.92" cy="442.5" r="1.6" fill="#5b2a84"/>
<circle cx="57.24" cy="443" r="1.6" fill="#5b2a84"/>
<circle cx="65.56" cy="443" r="1.6" fill="#5b2a84"/>
<circle cx="73.88" cy="443" r="1.6" fill="#5b2a84"/>
<circle cx="82.2" cy="439" r="1.6" fill="#5b2a84"/>
<circle cx="90.52" cy="433.3" r="1.6" fill="#5b2a84"/>
<circle cx="98.84" cy="424.3" r="1.6" fill="#5b2a84"/>
<circle cx="107.16" cy="418.3" r="1.6" fill="#5b2a84"/>
<circle cx="115.48" cy="414.8" r="1.6" fill="#5b2a84"/>
<circle cx="123.8" cy="413.7" r="1.6" fill="#5b2a84"/>
<circle cx="132.12" cy="413.1" r="1.6" fill="#5b2a84"/>
<circle cx="140.44" cy="412.7" r="1.6" fill="#5b2a84"/>
<circle cx="148.76" cy="419.6" r="1.6" fill="#5b2a84"/>
<circle cx="157.08" cy="423.8" r="1.6" fill="#5b2a84"/>
<circle cx="165.4" cy="424.2" r="1.6" fill="#5b2a84"/>
<text x="78" y="406" font-size="7.2" text-anchor="middle" font-weight="normal" font-style="normal" fill="#000">PMA</text>
<line x1="78.2" y1="409.2" x2="78.2" y2="424.4" stroke="#000" stroke-width="0.9" stroke-linecap="butt"/>
<path d="M76 423.9L80.4 423.9L78.2 428.7Z" fill="#000"/>
<text x="137.5" y="387.6" font-size="7.2" text-anchor="middle" font-weight="normal" font-style="normal" fill="#000">Rot/AA</text>
<line x1="137.5" y1="390.8" x2="137.5" y2="398.4" stroke="#000" stroke-width="0.9" stroke-linecap="butt"/>
<path d="M135.3 397.9L139.7 397.9L137.5 402.7Z" fill="#000"/>
<text x="183.7" y="359.7" font-size="11.5" text-anchor="start" font-weight="bold" font-style="normal" fill="#000">F</text>
<text x="275.5" y="367.1" font-size="9.3" text-anchor="middle" font-weight="normal" font-style="normal" fill="#000" textLength="85" lengthAdjust="spacingAndGlyphs">PMA stimulated OCR</text>
<rect x="242.3" y="446" width="5.4" height="24.4" fill="#d9d9d9"/>
<rect x="300.2" y="401.7" width="5.4" height="68.7" fill="#d9d9d9"/>
<line x1="209.9" y1="380" x2="209.9" y2="470.9" stroke="#000" stroke-width="1.4" stroke-linecap="butt"/>
<line x1="206.7" y1="470.4" x2="209.9" y2="470.4" stroke="#000" stroke-width="1" stroke-linecap="butt"/>
<text x="203.6" y="473" font-size="7.4" text-anchor="end" font-weight="normal" font-style="normal" fill="#000">0</text>
<line x1="206.7" y1="442.06" x2="209.9" y2="442.06" stroke="#000" stroke-width="1" stroke-linecap="butt"/>
<text x="203.6" y="444.67" font-size="7.4" text-anchor="end" font-weight="normal" font-style="normal" fill="#000">5</text>
<line x1="206.7" y1="413.73" x2="209.9" y2="413.73" stroke="#000" stroke-width="1" stroke-linecap="butt"/>
<text x="203.6" y="416.33" font-size="7.4" text-anchor="end" font-weight="normal" font-style="normal" fill="#000">10</text>
<line x1="206.7" y1="385.39" x2="209.9" y2="385.39" stroke="#000" stroke-width="1" stroke-linecap="butt"/>
<text x="203.6" y="388" font-size="7.4" text-anchor="end" font-weight="normal" font-style="normal" fill="#000">15</text>
<line x1="209.4" y1="470.2" x2="341.5" y2="470.2" stroke="#000" stroke-width="1.2" stroke-linecap="butt"/>
<line x1="209.6" y1="470.2" x2="209.6" y2="473.2" stroke="#000" stroke-width="1" stroke-linecap="butt"/>
<text x="209.6" y="482.2" font-size="7.5" text-anchor="middle" font-weight="normal" font-style="normal" fill="#000">0</text>
<line x1="234.84" y1="470.2" x2="234.84" y2="473.2" stroke="#000" stroke-width="1" stroke-linecap="butt"/>
<text x="234.84" y="482.2" font-size="7.5" text-anchor="middle" font-weight="normal" font-style="normal" fill="#000">20</text>
<line x1="260.08" y1="470.2" x2="260.08" y2="473.2" stroke="#000" stroke-width="1" stroke-linecap="butt"/>
<text x="260.08" y="482.2" font-size="7.5" text-anchor="middle" font-weight="normal" font-style="normal" fill="#000">40</text>
<line x1="285.32" y1="470.2" x2="285.32" y2="473.2" stroke="#000" stroke-width="1" stroke-linecap="butt"/>
<text x="285.32" y="482.2" font-size="7.5" text-anchor="middle" font-weight="normal" font-style="normal" fill="#000">60</text>
<line x1="310.56" y1="470.2" x2="310.56" y2="473.2" stroke="#000" stroke-width="1" stroke-linecap="butt"/>
<text x="310.56" y="482.2" font-size="7.5" text-anchor="middle" font-weight="normal" font-style="normal" fill="#000">80</text>
<line x1="335.8" y1="470.2" x2="335.8" y2="473.2" stroke="#000" stroke-width="1" stroke-linecap="butt"/>
<text x="335.8" y="482.2" font-size="7.5" text-anchor="middle" font-weight="normal" font-style="normal" fill="#000">100</text>
<text x="272.3" y="494" font-size="8.9" text-anchor="middle" font-weight="normal" font-style="normal" fill="#000" stroke="#000" stroke-width="0.22" textLength="42" lengthAdjust="spacingAndGlyphs">Time (minutes)</text>
<text transform="translate(190.7 423) rotate(-90)" x="0" y="0" font-size="9" text-anchor="middle" font-weight="normal" font-style="normal" fill="#000" stroke="#000" stroke-width="0.25" textLength="73.5" lengthAdjust="spacingAndGlyphs">OCR (pmol/min/norm. unit)</text>
<line x1="209.6" y1="503.5" x2="335.8" y2="503.5" stroke="#000" stroke-width="1.1" stroke-linecap="butt"/>
<line x1="209.6" y1="500.7" x2="209.6" y2="506.3" stroke="#000" stroke-width="1" stroke-linecap="butt"/>
<line x1="284.6" y1="500.7" x2="284.6" y2="506.3" stroke="#000" stroke-width="1" stroke-linecap="butt"/>
<text x="209.6" y="515.3" font-size="7.6" text-anchor="middle" font-weight="normal" font-style="normal" fill="#000">24</text>
<text x="284.6" y="515.3" font-size="7.6" text-anchor="middle" font-weight="normal" font-style="normal" fill="#000">25</text>
<text x="273" y="528.6" font-size="9" text-anchor="middle" font-weight="normal" font-style="normal" fill="#000" stroke="#000" stroke-width="0.22" textLength="98.5" lengthAdjust="spacingAndGlyphs">Time post IFN&#947; stimulation (hours)</text>
<path d="M211.5 449.3V455.3M209.5 449.3H213.5M209.5 455.3H213.5" stroke="#52b95a" stroke-width="0.95" fill="none"/>
<path d="M219.8 449.3V455.3M217.8 449.3H221.8M217.8 455.3H221.8" stroke="#52b95a" stroke-width="0.95" fill="none"/>
<path d="M228.1 449.3V455.3M226.1 449.3H230.1M226.1 455.3H230.1" stroke="#52b95a" stroke-width="0.95" fill="none"/>
<path d="M236.4 449.3V455.3M234.4 449.3H238.4M234.4 455.3H238.4" stroke="#52b95a" stroke-width="0.95" fill="none"/>
<path d="M244.7 449.3V455.3M242.7 449.3H246.7M242.7 455.3H246.7" stroke="#52b95a" stroke-width="0.95" fill="none"/>
<path d="M253 449.3V455.3M251 449.3H255M251 455.3H255" stroke="#52b95a" stroke-width="0.95" fill="none"/>
<path d="M261.3 444.4V451.4M259.3 444.4H263.3M259.3 451.4H263.3" stroke="#52b95a" stroke-width="0.95" fill="none"/>
<path d="M269.6 433.2V442.2M267.6 433.2H271.6M267.6 442.2H271.6" stroke="#52b95a" stroke-width="0.95" fill="none"/>
<path d="M277.9 418.4V427.4M275.9 418.4H279.9M275.9 427.4H279.9" stroke="#52b95a" stroke-width="0.95" fill="none"/>
<path d="M286.2 407.8V413.8M284.2 407.8H288.2M284.2 413.8H288.2" stroke="#52b95a" stroke-width="0.95" fill="none"/>
<path d="M294.5 404.2V408.2M292.5 404.2H296.5M292.5 408.2H296.5" stroke="#52b95a" stroke-width="0.95" fill="none"/>
<path d="M302.8 402V406M300.8 402H304.8M300.8 406H304.8" stroke="#52b95a" stroke-width="0.95" fill="none"/>
<path d="M311.1 435.2V440.2M309.1 435.2H313.1M309.1 440.2H313.1" stroke="#52b95a" stroke-width="0.95" fill="none"/>
<path d="M319.4 438.2V442.2M317.4 438.2H321.4M317.4 442.2H321.4" stroke="#52b95a" stroke-width="0.95" fill="none"/>
<path d="M327.7 440.7V444.7M325.7 440.7H329.7M325.7 444.7H329.7" stroke="#52b95a" stroke-width="0.95" fill="none"/>
<path d="M336 442.4V446.4M334 442.4H338M334 446.4H338" stroke="#52b95a" stroke-width="0.95" fill="none"/>
<polyline points="211.5,452.3 219.8,452.3 228.1,452.3 236.4,452.3 244.7,452.3 253,452.3 261.3,447.9 269.6,437.7 277.9,422.9 286.2,410.8 294.5,406.2 302.8,404 311.1,437.7 319.4,440.2 327.7,442.7 336,444.4" fill="none" stroke="#33b046" stroke-width="1.3" stroke-linejoin="round"/>
<path d="M211.5 450.38L213.26 453.58L209.74 453.58Z" fill="#33b046"/>
<path d="M219.8 450.38L221.56 453.58L218.04 453.58Z" fill="#33b046"/>
<path d="M228.1 450.38L229.86 453.58L226.34 453.58Z" fill="#33b046"/>
<path d="M236.4 450.38L238.16 453.58L234.64 453.58Z" fill="#33b046"/>
<path d="M244.7 450.38L246.46 453.58L242.94 453.58Z" fill="#33b046"/>
<path d="M253 450.38L254.76 453.58L251.24 453.58Z" fill="#33b046"/>
<path d="M261.3 445.98L263.06 449.18L259.54 449.18Z" fill="#33b046"/>
<path d="M269.6 435.78L271.36 438.98L267.84 438.98Z" fill="#33b046"/>
<path d="M277.9 420.98L279.66 424.18L276.14 424.18Z" fill="#33b046"/>
<path d="M286.2 408.88L287.96 412.08L284.44 412.08Z" fill="#33b046"/>
<path d="M294.5 404.28L296.26 407.48L292.74 407.48Z" fill="#33b046"/>
<path d="M302.8 402.08L304.56 405.28L301.04 405.28Z" fill="#33b046"/>
<path d="M311.1 435.78L312.86 438.98L309.34 438.98Z" fill="#33b046"/>
<path d="M319.4 438.28L321.16 441.48L317.64 441.48Z" fill="#33b046"/>
<path d="M327.7 440.78L329.46 443.98L325.94 443.98Z" fill="#33b046"/>
<path d="M336 442.48L337.76 445.68L334.24 445.68Z" fill="#33b046"/>
<path d="M261.3 453.2V459.2M259.3 453.2H263.3M259.3 459.2H263.3" stroke="#6c3f8f" stroke-width="0.95" fill="none"/>
<path d="M269.6 440.5V451.5M267.6 440.5H271.6M267.6 451.5H271.6" stroke="#6c3f8f" stroke-width="0.95" fill="none"/>
<path d="M277.9 434.6V444.6M275.9 434.6H279.9M275.9 444.6H279.9" stroke="#6c3f8f" stroke-width="0.95" fill="none"/>
<path d="M286.2 429V437M284.2 429H288.2M284.2 437H288.2" stroke="#6c3f8f" stroke-width="0.95" fill="none"/>
<path d="M294.5 426V434M292.5 426H296.5M292.5 434H296.5" stroke="#6c3f8f" stroke-width="0.95" fill="none"/>
<path d="M302.8 424.3V432.3M300.8 424.3H304.8M300.8 432.3H304.8" stroke="#6c3f8f" stroke-width="0.95" fill="none"/>
<path d="M311.1 439V444M309.1 439H313.1M309.1 444H313.1" stroke="#6c3f8f" stroke-width="0.95" fill="none"/>
<path d="M319.4 441.5V445.5M317.4 441.5H321.4M317.4 445.5H321.4" stroke="#6c3f8f" stroke-width="0.95" fill="none"/>
<path d="M327.7 442.4V446.4M325.7 442.4H329.7M325.7 446.4H329.7" stroke="#6c3f8f" stroke-width="0.95" fill="none"/>
<path d="M336 443V447M334 443H338M334 447H338" stroke="#6c3f8f" stroke-width="0.95" fill="none"/>
<polyline points="211.5,461.7 219.8,461.7 228.1,461.7 236.4,461.7 244.7,461.7 253,461.7 261.3,456.2 269.6,446 277.9,439.6 286.2,433 294.5,430 302.8,428.3 311.1,441.5 319.4,443.5 327.7,444.4 336,445" fill="none" stroke="#5b2a84" stroke-width="1.3" stroke-linejoin="round"/>
<circle cx="211.5" cy="461.7" r="1.5" fill="#5b2a84"/>
<circle cx="219.8" cy="461.7" r="1.5" fill="#5b2a84"/>
<circle cx="228.1" cy="461.7" r="1.5" fill="#5b2a84"/>
<circle cx="236.4" cy="461.7" r="1.5" fill="#5b2a84"/>
<circle cx="244.7" cy="461.7" r="1.5" fill="#5b2a84"/>
<circle cx="253" cy="461.7" r="1.5" fill="#5b2a84"/>
<circle cx="261.3" cy="456.2" r="1.5" fill="#5b2a84"/>
<circle cx="269.6" cy="446" r="1.5" fill="#5b2a84"/>
<circle cx="277.9" cy="439.6" r="1.5" fill="#5b2a84"/>
<circle cx="286.2" cy="433" r="1.5" fill="#5b2a84"/>
<circle cx="294.5" cy="430" r="1.5" fill="#5b2a84"/>
<circle cx="302.8" cy="428.3" r="1.5" fill="#5b2a84"/>
<circle cx="311.1" cy="441.5" r="1.5" fill="#5b2a84"/>
<circle cx="319.4" cy="443.5" r="1.5" fill="#5b2a84"/>
<circle cx="327.7" cy="444.4" r="1.5" fill="#5b2a84"/>
<circle cx="336" cy="445" r="1.5" fill="#5b2a84"/>
<text x="232.7" y="443.5" font-size="7.2" text-anchor="middle" font-weight="normal" font-style="italic" fill="#333">Basal</text>
<text x="246.7" y="400.8" font-size="7.2" text-anchor="start" font-weight="normal" font-style="italic" fill="#333">PMA-stimulated</text>
<text x="249" y="423" font-size="7.2" text-anchor="middle" font-weight="normal" font-style="normal" fill="#000">PMA</text>
<line x1="249" y1="426.2" x2="249" y2="441.3" stroke="#000" stroke-width="0.9" stroke-linecap="butt"/>
<path d="M246.8 440.8L251.2 440.8L249 445.6Z" fill="#000"/>
<text x="308.8" y="391" font-size="7.2" text-anchor="middle" font-weight="normal" font-style="normal" fill="#000">Rot/AA</text>
<line x1="308.8" y1="394" x2="308.8" y2="409" stroke="#000" stroke-width="0.9" stroke-linecap="butt"/>
<path d="M306.6 408.5L311 408.5L308.8 413.3Z" fill="#000"/>
<line x1="327.2" y1="391" x2="339.8" y2="391" stroke="#5b2a84" stroke-width="1.3" stroke-linecap="butt"/>
<circle cx="333.5" cy="391" r="1.6" fill="#5b2a84"/>
<text x="343.1" y="393.5" font-size="6.9" text-anchor="start" font-weight="normal" font-style="normal" fill="#000">M(0)</text>
<line x1="327.2" y1="403.7" x2="339.8" y2="403.7" stroke="#33b046" stroke-width="1.3" stroke-linecap="butt"/>
<path d="M333.5 401.7L335.4 405L331.6 405Z" fill="#33b046"/>
<text x="343.1" y="406.2" font-size="6.9" text-anchor="start" font-weight="normal" font-style="normal" fill="#000">M(IFN&#947;)</text>
<text x="372.3" y="359.6" font-size="11.5" text-anchor="start" font-weight="bold" font-style="normal" fill="#000">G</text>
<text x="456.8" y="361.6" font-size="9.3" text-anchor="middle" font-weight="normal" font-style="normal" fill="#000" textLength="103.5" lengthAdjust="spacingAndGlyphs">Basal and PMA-stimulated</text>
<text x="455" y="372.2" font-size="9.3" text-anchor="middle" font-weight="normal" font-style="normal" fill="#000" textLength="48" lengthAdjust="spacingAndGlyphs">OCR values</text>
<rect x="407.3" y="459.8" width="16.5" height="10.2" fill="#a68bc0"/>
<rect x="434.4" y="449.6" width="16.8" height="20.4" fill="#9ad99c"/>
<rect x="464.2" y="428.5" width="16.3" height="41.5" fill="#a68bc0"/>
<rect x="490.5" y="409.2" width="16.7" height="60.8" fill="#9ad99c"/>
<line x1="400.8" y1="380" x2="400.8" y2="470.5" stroke="#000" stroke-width="1.4" stroke-linecap="butt"/>
<line x1="397.6" y1="470" x2="400.8" y2="470" stroke="#000" stroke-width="1" stroke-linecap="butt"/>
<text x="395.1" y="472.6" font-size="7.4" text-anchor="end" font-weight="normal" font-style="normal" fill="#000">0</text>
<line x1="397.6" y1="441.8" x2="400.8" y2="441.8" stroke="#000" stroke-width="1" stroke-linecap="butt"/>
<text x="395.1" y="444.4" font-size="7.4" text-anchor="end" font-weight="normal" font-style="normal" fill="#000">5</text>
<line x1="397.6" y1="413.6" x2="400.8" y2="413.6" stroke="#000" stroke-width="1" stroke-linecap="butt"/>
<text x="395.1" y="416.2" font-size="7.4" text-anchor="end" font-weight="normal" font-style="normal" fill="#000">10</text>
<line x1="397.6" y1="385.4" x2="400.8" y2="385.4" stroke="#000" stroke-width="1" stroke-linecap="butt"/>
<text x="395.1" y="388" font-size="7.4" text-anchor="end" font-weight="normal" font-style="normal" fill="#000">15</text>
<line x1="398" y1="470.3" x2="512.5" y2="470.3" stroke="#000" stroke-width="1.2" stroke-linecap="butt"/>
<line x1="429" y1="470.2" x2="429" y2="473" stroke="#000" stroke-width="1" stroke-linecap="butt"/>
<line x1="485.5" y1="470.2" x2="485.5" y2="473" stroke="#000" stroke-width="1" stroke-linecap="butt"/>
<text x="429.4" y="481.5" font-size="7.5" text-anchor="middle" font-weight="normal" font-style="italic" fill="#000" textLength="18.7" lengthAdjust="spacingAndGlyphs">Basal</text>
<text x="485.8" y="481.5" font-size="7.5" text-anchor="middle" font-weight="normal" font-style="italic" fill="#000" textLength="52.8" lengthAdjust="spacingAndGlyphs">PMA-stimulated</text>
<text transform="translate(380.2 425.1) rotate(-90)" x="0" y="0" font-size="9" text-anchor="middle" font-weight="normal" font-style="normal" fill="#000" stroke="#000" stroke-width="0.25" textLength="77.3" lengthAdjust="spacingAndGlyphs">OCR (pmol/min/norm. unit)</text>
<circle cx="408.5" cy="458.5" r="1.5" fill="#4a1a78"/>
<circle cx="408.5" cy="462.3" r="1.5" fill="#4a1a78"/>
<circle cx="414.2" cy="459.4" r="1.5" fill="#4a1a78"/>
<circle cx="418.5" cy="460.8" r="1.5" fill="#4a1a78"/>
<circle cx="423.3" cy="461.3" r="1.5" fill="#4a1a78"/>
<path d="M415.5 458.6V461.5M411.7 458.6H419.3M411.7 461.5H419.3" stroke="#000" stroke-width="1" fill="none"/>
<circle cx="435.4" cy="451.5" r="1.5" fill="#22b040"/>
<circle cx="440.8" cy="448.3" r="1.5" fill="#22b040"/>
<circle cx="445.4" cy="449.6" r="1.5" fill="#22b040"/>
<circle cx="450.2" cy="449.6" r="1.5" fill="#22b040"/>
<path d="M442.5 448.5V450.8M438.7 448.5H446.3M438.7 450.8H446.3" stroke="#000" stroke-width="1" fill="none"/>
<circle cx="468.5" cy="420.3" r="1.5" fill="#4a1a78"/>
<circle cx="475.7" cy="422.3" r="1.5" fill="#4a1a78"/>
<circle cx="472.3" cy="426.6" r="1.5" fill="#4a1a78"/>
<circle cx="472.3" cy="432" r="1.5" fill="#4a1a78"/>
<circle cx="472.3" cy="436.9" r="1.5" fill="#4a1a78"/>
<path d="M472.3 420.8V434.9M467.8 420.8H476.8M467.8 434.9H476.8" stroke="#000" stroke-width="1" fill="none"/>
<circle cx="492.3" cy="405.1" r="1.5" fill="#22b040"/>
<circle cx="499.2" cy="407.7" r="1.5" fill="#22b040"/>
<circle cx="506.2" cy="408.2" r="1.5" fill="#22b040"/>
<circle cx="499.2" cy="414.6" r="1.5" fill="#22b040"/>
<path d="M499.2 404.6V413.1M494.6 404.6H503.8M494.6 413.1H503.8" stroke="#000" stroke-width="1" fill="none"/>
<path d="M415.2 442.5V437.1H442.5V442.5" stroke="#000" stroke-width="1" fill="none"/>
<text x="429" y="436.3" font-size="8.2" text-anchor="middle" font-weight="normal" font-style="normal" fill="#000">**</text>
<path d="M472 397.7V393.1H499.2V397.7" stroke="#000" stroke-width="1" fill="none"/>
<text x="483.8" y="391.8" font-size="8.2" text-anchor="middle" font-weight="normal" font-style="normal" fill="#000">****</text>
</svg>
</body></html>
